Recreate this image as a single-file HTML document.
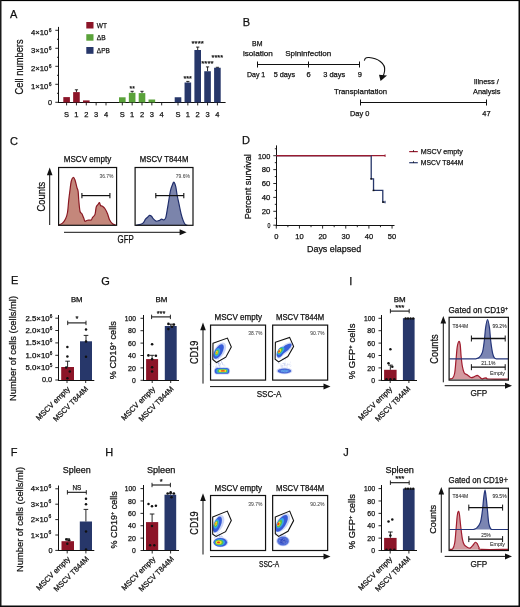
<!DOCTYPE html>
<html><head><meta charset="utf-8"><style>
html,body{margin:0;padding:0;background:#fff;}
svg{display:block;font-family:"Liberation Sans",sans-serif;will-change:transform;}
</style></head><body>
<svg width="520" height="607" viewBox="0 0 520 607">
<rect x="0" y="0" width="520" height="607" fill="#fff"/>
<defs><filter id="bl0_45" x="-50%" y="-50%" width="200%" height="200%"><feGaussianBlur stdDeviation="0.45"/></filter><filter id="bl0_6" x="-50%" y="-50%" width="200%" height="200%"><feGaussianBlur stdDeviation="0.6"/></filter></defs>
<text x="10" y="18.2" font-size="11" text-anchor="start" fill="#111" stroke="#111" stroke-width="0.25">A</text>
<rect x="86.3" y="22" width="7.2" height="6.5" fill="#8c1528"/>
<rect x="86.3" y="34.2" width="7.2" height="6.5" fill="#5aa23a"/>
<rect x="86.3" y="47" width="7.2" height="6.8" fill="#27376a"/>
<text x="96.8" y="27.6" font-size="7.8" text-anchor="start" fill="#111" stroke="#111" stroke-width="0.25" textLength="10.2" lengthAdjust="spacingAndGlyphs">WT</text>
<text x="96.8" y="39.7" font-size="7.8" text-anchor="start" fill="#111" stroke="#111" stroke-width="0.25" textLength="8.9" lengthAdjust="spacingAndGlyphs">ΔB</text>
<text x="96.8" y="52.7" font-size="7.8" text-anchor="start" fill="#111" stroke="#111" stroke-width="0.25" textLength="13" lengthAdjust="spacingAndGlyphs">ΔPB</text>
<line x1="58.5" y1="26.9" x2="58.5" y2="103" stroke="#111" stroke-width="1"/>
<line x1="55.3" y1="102.3" x2="58.6" y2="102.3" stroke="#111" stroke-width="0.9"/>
<line x1="57.0" y1="93.3" x2="58.6" y2="93.3" stroke="#111" stroke-width="0.9"/>
<text x="52" y="105.0" font-size="7.3" text-anchor="end" fill="#111" stroke="#111" stroke-width="0.25">0</text>
<line x1="55.3" y1="84.3" x2="58.6" y2="84.3" stroke="#111" stroke-width="0.9"/>
<line x1="57.0" y1="75.3" x2="58.6" y2="75.3" stroke="#111" stroke-width="0.9"/>
<text x="48.3" y="88.7" font-size="7.3" text-anchor="end" fill="#111" stroke="#111" stroke-width="0.25" textLength="17.4" lengthAdjust="spacingAndGlyphs">1×10</text>
<text x="48.7" y="85.6" font-size="5.0" text-anchor="start" fill="#111" stroke="#111" stroke-width="0.25">6</text>
<line x1="55.3" y1="66.3" x2="58.6" y2="66.3" stroke="#111" stroke-width="0.9"/>
<line x1="57.0" y1="57.3" x2="58.6" y2="57.3" stroke="#111" stroke-width="0.9"/>
<text x="48.3" y="70.7" font-size="7.3" text-anchor="end" fill="#111" stroke="#111" stroke-width="0.25" textLength="17.4" lengthAdjust="spacingAndGlyphs">2×10</text>
<text x="48.7" y="67.6" font-size="5.0" text-anchor="start" fill="#111" stroke="#111" stroke-width="0.25">6</text>
<line x1="55.3" y1="48.3" x2="58.6" y2="48.3" stroke="#111" stroke-width="0.9"/>
<line x1="57.0" y1="39.3" x2="58.6" y2="39.3" stroke="#111" stroke-width="0.9"/>
<text x="48.3" y="52.699999999999996" font-size="7.3" text-anchor="end" fill="#111" stroke="#111" stroke-width="0.25" textLength="17.4" lengthAdjust="spacingAndGlyphs">3×10</text>
<text x="48.7" y="49.599999999999994" font-size="5.0" text-anchor="start" fill="#111" stroke="#111" stroke-width="0.25">6</text>
<line x1="55.3" y1="30.299999999999997" x2="58.6" y2="30.299999999999997" stroke="#111" stroke-width="0.9"/>
<text x="48.3" y="34.699999999999996" font-size="7.3" text-anchor="end" fill="#111" stroke="#111" stroke-width="0.25" textLength="17.4" lengthAdjust="spacingAndGlyphs">4×10</text>
<text x="48.7" y="31.599999999999998" font-size="5.0" text-anchor="start" fill="#111" stroke="#111" stroke-width="0.25">6</text>
<text x="23.3" y="66.9" font-size="10" text-anchor="middle" fill="#111" stroke="#111" stroke-width="0.25" textLength="55.1" lengthAdjust="spacingAndGlyphs" transform="rotate(-90 23.3 66.9)">Cell numbers</text>
<line x1="58.1" y1="102.5" x2="225.6" y2="102.5" stroke="#111" stroke-width="1"/>
<rect x="63.3" y="97.1" width="6.6" height="5.400000000000006" fill="#8c1528"/>
<line x1="66.6" y1="102.5" x2="66.6" y2="105.4" stroke="#111" stroke-width="0.9"/>
<text x="66.6" y="116.6" font-size="7.5" text-anchor="middle" fill="#111" stroke="#111" stroke-width="0.25">S</text>
<line x1="76.44999999999999" y1="89.8" x2="76.44999999999999" y2="92.1" stroke="#111" stroke-width="0.9"/>
<line x1="74.85" y1="89.8" x2="78.04999999999998" y2="89.8" stroke="#111" stroke-width="0.9"/>
<rect x="73.14999999999999" y="92.1" width="6.6" height="10.400000000000006" fill="#8c1528"/>
<line x1="76.44999999999999" y1="102.5" x2="76.44999999999999" y2="105.4" stroke="#111" stroke-width="0.9"/>
<text x="76.44999999999999" y="116.6" font-size="7.5" text-anchor="middle" fill="#111" stroke="#111" stroke-width="0.25">1</text>
<rect x="83.0" y="100.4" width="6.6" height="2.0999999999999943" fill="#8c1528"/>
<line x1="86.3" y1="102.5" x2="86.3" y2="105.4" stroke="#111" stroke-width="0.9"/>
<text x="86.3" y="116.6" font-size="7.5" text-anchor="middle" fill="#111" stroke="#111" stroke-width="0.25">2</text>
<line x1="96.14999999999999" y1="102.5" x2="96.14999999999999" y2="105.4" stroke="#111" stroke-width="0.9"/>
<text x="96.14999999999999" y="116.6" font-size="7.5" text-anchor="middle" fill="#111" stroke="#111" stroke-width="0.25">3</text>
<line x1="106.0" y1="102.5" x2="106.0" y2="105.4" stroke="#111" stroke-width="0.9"/>
<text x="106.0" y="116.6" font-size="7.5" text-anchor="middle" fill="#111" stroke="#111" stroke-width="0.25">4</text>
<rect x="119.0" y="97.3" width="6.6" height="5.200000000000003" fill="#5aa23a"/>
<line x1="122.3" y1="102.5" x2="122.3" y2="105.4" stroke="#111" stroke-width="0.9"/>
<text x="122.3" y="116.6" font-size="7.5" text-anchor="middle" fill="#111" stroke="#111" stroke-width="0.25">S</text>
<line x1="132.15" y1="91.3" x2="132.15" y2="92.8" stroke="#111" stroke-width="0.9"/>
<line x1="130.55" y1="91.3" x2="133.75" y2="91.3" stroke="#111" stroke-width="0.9"/>
<rect x="128.85" y="92.8" width="6.6" height="9.700000000000003" fill="#5aa23a"/>
<line x1="132.15" y1="102.5" x2="132.15" y2="105.4" stroke="#111" stroke-width="0.9"/>
<text x="132.15" y="116.6" font-size="7.5" text-anchor="middle" fill="#111" stroke="#111" stroke-width="0.25">1</text>
<line x1="142.0" y1="91.3" x2="142.0" y2="93.1" stroke="#111" stroke-width="0.9"/>
<line x1="140.4" y1="91.3" x2="143.6" y2="91.3" stroke="#111" stroke-width="0.9"/>
<rect x="138.7" y="93.1" width="6.6" height="9.400000000000006" fill="#5aa23a"/>
<line x1="142.0" y1="102.5" x2="142.0" y2="105.4" stroke="#111" stroke-width="0.9"/>
<text x="142.0" y="116.6" font-size="7.5" text-anchor="middle" fill="#111" stroke="#111" stroke-width="0.25">2</text>
<rect x="148.54999999999998" y="99.5" width="6.6" height="3.0" fill="#5aa23a"/>
<line x1="151.85" y1="102.5" x2="151.85" y2="105.4" stroke="#111" stroke-width="0.9"/>
<text x="151.85" y="116.6" font-size="7.5" text-anchor="middle" fill="#111" stroke="#111" stroke-width="0.25">3</text>
<line x1="161.7" y1="102.5" x2="161.7" y2="105.4" stroke="#111" stroke-width="0.9"/>
<text x="161.7" y="116.6" font-size="7.5" text-anchor="middle" fill="#111" stroke="#111" stroke-width="0.25">4</text>
<rect x="174.7" y="97.25" width="6.6" height="5.25" fill="#27376a"/>
<line x1="178.0" y1="102.5" x2="178.0" y2="105.4" stroke="#111" stroke-width="0.9"/>
<text x="178.0" y="116.6" font-size="7.5" text-anchor="middle" fill="#111" stroke="#111" stroke-width="0.25">S</text>
<line x1="187.85" y1="81.4" x2="187.85" y2="82.5" stroke="#111" stroke-width="0.9"/>
<line x1="186.25" y1="81.4" x2="189.45" y2="81.4" stroke="#111" stroke-width="0.9"/>
<rect x="184.54999999999998" y="82.5" width="6.6" height="20.0" fill="#27376a"/>
<line x1="187.85" y1="102.5" x2="187.85" y2="105.4" stroke="#111" stroke-width="0.9"/>
<text x="187.85" y="116.6" font-size="7.5" text-anchor="middle" fill="#111" stroke="#111" stroke-width="0.25">1</text>
<line x1="197.7" y1="47.1" x2="197.7" y2="50" stroke="#111" stroke-width="0.9"/>
<line x1="196.1" y1="47.1" x2="199.29999999999998" y2="47.1" stroke="#111" stroke-width="0.9"/>
<rect x="194.39999999999998" y="50" width="6.6" height="52.5" fill="#27376a"/>
<line x1="197.7" y1="102.5" x2="197.7" y2="105.4" stroke="#111" stroke-width="0.9"/>
<text x="197.7" y="116.6" font-size="7.5" text-anchor="middle" fill="#111" stroke="#111" stroke-width="0.25">2</text>
<line x1="207.55" y1="66.9" x2="207.55" y2="71.25" stroke="#111" stroke-width="0.9"/>
<line x1="205.95000000000002" y1="66.9" x2="209.15" y2="66.9" stroke="#111" stroke-width="0.9"/>
<rect x="204.25" y="71.25" width="6.6" height="31.25" fill="#27376a"/>
<line x1="207.55" y1="102.5" x2="207.55" y2="105.4" stroke="#111" stroke-width="0.9"/>
<text x="207.55" y="116.6" font-size="7.5" text-anchor="middle" fill="#111" stroke="#111" stroke-width="0.25">3</text>
<line x1="217.4" y1="67.3" x2="217.4" y2="67.75" stroke="#111" stroke-width="0.9"/>
<line x1="215.8" y1="67.3" x2="219.0" y2="67.3" stroke="#111" stroke-width="0.9"/>
<rect x="214.1" y="67.75" width="6.6" height="34.75" fill="#27376a"/>
<line x1="217.4" y1="102.5" x2="217.4" y2="105.4" stroke="#111" stroke-width="0.9"/>
<text x="217.4" y="116.6" font-size="7.5" text-anchor="middle" fill="#111" stroke="#111" stroke-width="0.25">4</text>
<text x="132.2" y="91.0" font-size="8" text-anchor="middle" fill="#111" stroke="#111" stroke-width="0.25" textLength="5.200000000000017" lengthAdjust="spacingAndGlyphs">**</text>
<text x="187.7" y="81.2" font-size="8" text-anchor="middle" fill="#111" stroke="#111" stroke-width="0.25" textLength="8.400000000000006" lengthAdjust="spacingAndGlyphs">***</text>
<text x="197.625" y="46.45" font-size="8" text-anchor="middle" fill="#111" stroke="#111" stroke-width="0.25" textLength="12.25" lengthAdjust="spacingAndGlyphs">****</text>
<text x="207.375" y="66.2" font-size="8" text-anchor="middle" fill="#111" stroke="#111" stroke-width="0.25" textLength="12.25" lengthAdjust="spacingAndGlyphs">****</text>
<text x="217.25" y="60.2" font-size="8" text-anchor="middle" fill="#111" stroke="#111" stroke-width="0.25" textLength="11.5" lengthAdjust="spacingAndGlyphs">****</text>
<text x="242.7" y="25.6" font-size="11" text-anchor="start" fill="#111" stroke="#111" stroke-width="0.25">B</text>
<text x="257.3" y="46" font-size="7.5" text-anchor="middle" fill="#111" stroke="#111" stroke-width="0.25" textLength="10.4" lengthAdjust="spacingAndGlyphs">BM</text>
<text x="257.9" y="56.3" font-size="7.8" text-anchor="middle" fill="#111" stroke="#111" stroke-width="0.25" textLength="30" lengthAdjust="spacingAndGlyphs">isolation</text>
<text x="308.2" y="56.3" font-size="7.8" text-anchor="middle" fill="#111" stroke="#111" stroke-width="0.25" textLength="46" lengthAdjust="spacingAndGlyphs">Spininfection</text>
<line x1="257.1" y1="64.5" x2="359.6" y2="64.5" stroke="#111" stroke-width="1"/>
<line x1="257.5" y1="61.5" x2="257.5" y2="67.5" stroke="#111" stroke-width="1"/>
<line x1="308.5" y1="61.5" x2="308.5" y2="67.5" stroke="#111" stroke-width="1"/>
<line x1="359.5" y1="61.5" x2="359.5" y2="67.5" stroke="#111" stroke-width="1"/>
<text x="256.1" y="77.2" font-size="7.5" text-anchor="middle" fill="#111" stroke="#111" stroke-width="0.25" textLength="18.3" lengthAdjust="spacingAndGlyphs">Day 1</text>
<text x="284.4" y="77.2" font-size="7.5" text-anchor="middle" fill="#111" stroke="#111" stroke-width="0.25" textLength="21.5" lengthAdjust="spacingAndGlyphs">5 days</text>
<text x="308.5" y="77.2" font-size="7.5" text-anchor="middle" fill="#111" stroke="#111" stroke-width="0.25">6</text>
<text x="334.2" y="77.2" font-size="7.5" text-anchor="middle" fill="#111" stroke="#111" stroke-width="0.25" textLength="22" lengthAdjust="spacingAndGlyphs">3 days</text>
<text x="359.8" y="77.4" font-size="7.5" text-anchor="middle" fill="#111" stroke="#111" stroke-width="0.25">9</text>
<path d="M 364.3 60.6 L 365.3 58.3 Q 366.5 57.3 369 57.5 C 377 58 386 63 384.6 71 Q 384.2 74 383 76" fill="none" stroke="#111" stroke-width="1.1"/>
<path d="M 380.6 81 L 379 74.8 L 387 75.6 Z" fill="#111"/>
<text x="360.6" y="93.8" font-size="7.8" text-anchor="middle" fill="#111" stroke="#111" stroke-width="0.25" textLength="53.2" lengthAdjust="spacingAndGlyphs">Transplantation</text>
<line x1="360.3" y1="102.5" x2="486.4" y2="102.5" stroke="#111" stroke-width="1"/>
<line x1="360.5" y1="99.5" x2="360.5" y2="105.5" stroke="#111" stroke-width="1"/>
<line x1="486.5" y1="99.5" x2="486.5" y2="105.5" stroke="#111" stroke-width="1"/>
<text x="359.6" y="115.6" font-size="7.5" text-anchor="middle" fill="#111" stroke="#111" stroke-width="0.25" textLength="19.4" lengthAdjust="spacingAndGlyphs">Day 0</text>
<text x="486.4" y="115.6" font-size="7.5" text-anchor="middle" fill="#111" stroke="#111" stroke-width="0.25" textLength="8.3" lengthAdjust="spacingAndGlyphs">47</text>
<text x="486.3" y="84.4" font-size="7.8" text-anchor="middle" fill="#111" stroke="#111" stroke-width="0.25" textLength="25.2" lengthAdjust="spacingAndGlyphs">Illness /</text>
<text x="486.7" y="94" font-size="7.8" text-anchor="middle" fill="#111" stroke="#111" stroke-width="0.25" textLength="27.4" lengthAdjust="spacingAndGlyphs">Analysis</text>
<text x="9.9" y="144.8" font-size="11" text-anchor="start" fill="#111" stroke="#111" stroke-width="0.25">C</text>
<line x1="49.7" y1="225" x2="49.7" y2="172" stroke="#111" stroke-width="1"/>
<path d="M 49.7 167.4 L 46.9 175.2 L 52.5 175.2 Z" fill="#111"/>
<text x="45.1" y="196.6" font-size="10.3" text-anchor="middle" fill="#111" stroke="#111" stroke-width="0.25" textLength="29.6" lengthAdjust="spacingAndGlyphs" transform="rotate(-90 45.1 196.6)">Counts</text>
<line x1="64" y1="232.3" x2="181" y2="232.3" stroke="#111" stroke-width="1"/>
<path d="M 186.6 232.3 L 179.6 229.3 L 179.6 235.3 Z" fill="#111"/>
<text x="125.6" y="242.7" font-size="10" text-anchor="middle" fill="#111" stroke="#111" stroke-width="0.25" textLength="16.2" lengthAdjust="spacingAndGlyphs">GFP</text>
<text x="87.5" y="161.9" font-size="8.2" text-anchor="middle" fill="#111" stroke="#111" stroke-width="0.25" textLength="47.5" lengthAdjust="spacingAndGlyphs">MSCV empty</text>
<text x="164.1" y="161.9" font-size="8.2" text-anchor="middle" fill="#111" stroke="#111" stroke-width="0.25" textLength="48.5" lengthAdjust="spacingAndGlyphs">MSCV T844M</text>
<path d="M 58.75 225.00 C 59.38 224.68 61.36 224.14 62.50 223.10 C 63.64 222.06 64.77 220.52 65.60 218.75 C 66.43 216.98 66.97 215.62 67.50 212.50 C 68.03 209.38 68.33 203.75 68.75 200.00 C 69.17 196.25 69.58 193.12 70.00 190.00 C 70.42 186.88 70.73 183.33 71.25 181.25 C 71.77 179.17 72.47 177.71 73.10 177.50 C 73.72 177.29 74.37 178.33 75.00 180.00 C 75.63 181.67 76.38 185.62 76.90 187.50 C 77.42 189.38 77.79 189.17 78.10 191.25 C 78.41 193.33 78.43 196.67 78.75 200.00 C 79.07 203.33 79.47 208.96 80.00 211.25 C 80.53 213.54 81.28 212.61 81.90 213.75 C 82.53 214.89 83.23 216.85 83.75 218.10 C 84.27 219.35 84.38 220.89 85.00 221.25 C 85.62 221.61 86.46 220.46 87.50 220.25 C 88.54 220.04 90.42 220.46 91.25 220.00 C 92.08 219.54 91.88 218.43 92.50 217.50 C 93.12 216.57 94.38 216.17 95.00 214.40 C 95.62 212.63 95.73 208.57 96.25 206.90 C 96.77 205.23 97.57 205.13 98.10 204.40 C 98.62 203.67 98.98 202.30 99.40 202.50 C 99.82 202.70 100.08 204.97 100.60 205.60 C 101.12 206.22 101.77 205.72 102.50 206.25 C 103.23 206.78 104.17 207.50 105.00 208.75 C 105.83 210.00 106.77 211.97 107.50 213.75 C 108.23 215.53 108.57 217.73 109.40 219.40 C 110.23 221.07 111.47 222.82 112.50 223.75 C 113.53 224.68 115.08 224.79 115.60 225.00 Z" fill="#c4877b" stroke="none" stroke-width="0"/>
<path d="M 58.75 225.00 C 59.38 224.68 61.36 224.14 62.50 223.10 C 63.64 222.06 64.77 220.52 65.60 218.75 C 66.43 216.98 66.97 215.62 67.50 212.50 C 68.03 209.38 68.33 203.75 68.75 200.00 C 69.17 196.25 69.58 193.12 70.00 190.00 C 70.42 186.88 70.73 183.33 71.25 181.25 C 71.77 179.17 72.47 177.71 73.10 177.50 C 73.72 177.29 74.37 178.33 75.00 180.00 C 75.63 181.67 76.38 185.62 76.90 187.50 C 77.42 189.38 77.79 189.17 78.10 191.25 C 78.41 193.33 78.43 196.67 78.75 200.00 C 79.07 203.33 79.47 208.96 80.00 211.25 C 80.53 213.54 81.28 212.61 81.90 213.75 C 82.53 214.89 83.23 216.85 83.75 218.10 C 84.27 219.35 84.38 220.89 85.00 221.25 C 85.62 221.61 86.46 220.46 87.50 220.25 C 88.54 220.04 90.42 220.46 91.25 220.00 C 92.08 219.54 91.88 218.43 92.50 217.50 C 93.12 216.57 94.38 216.17 95.00 214.40 C 95.62 212.63 95.73 208.57 96.25 206.90 C 96.77 205.23 97.57 205.13 98.10 204.40 C 98.62 203.67 98.98 202.30 99.40 202.50 C 99.82 202.70 100.08 204.97 100.60 205.60 C 101.12 206.22 101.77 205.72 102.50 206.25 C 103.23 206.78 104.17 207.50 105.00 208.75 C 105.83 210.00 106.77 211.97 107.50 213.75 C 108.23 215.53 108.57 217.73 109.40 219.40 C 110.23 221.07 111.47 222.82 112.50 223.75 C 113.53 224.68 115.08 224.79 115.60 225.00" fill="none" stroke="#8a1822" stroke-width="1.2"/>
<path d="M 136.00 225.30 C 136.80 225.13 139.55 224.75 140.80 224.30 C 142.05 223.85 142.72 223.45 143.50 222.60 C 144.28 221.75 144.83 220.10 145.50 219.20 C 146.17 218.30 146.83 217.83 147.50 217.20 C 148.17 216.57 148.83 215.55 149.50 215.40 C 150.17 215.25 150.82 215.67 151.50 216.30 C 152.18 216.93 152.82 218.38 153.60 219.20 C 154.38 220.02 155.32 220.97 156.20 221.20 C 157.08 221.43 158.00 220.93 158.90 220.60 C 159.80 220.27 160.82 219.32 161.60 219.20 C 162.38 219.08 162.92 220.12 163.60 219.90 C 164.28 219.68 165.02 220.03 165.70 217.90 C 166.38 215.77 166.92 211.58 167.70 207.10 C 168.48 202.62 169.62 194.70 170.40 191.00 C 171.18 187.30 171.80 186.37 172.40 184.90 C 173.00 183.43 173.43 181.87 174.00 182.20 C 174.57 182.53 175.28 184.77 175.80 186.90 C 176.32 189.03 176.55 192.08 177.10 195.00 C 177.65 197.92 178.43 201.27 179.10 204.40 C 179.77 207.53 180.42 211.10 181.10 213.80 C 181.78 216.50 182.52 218.85 183.20 220.60 C 183.88 222.35 184.53 223.52 185.20 224.30 C 185.87 225.08 186.87 225.13 187.20 225.30 Z" fill="#7b84ab" stroke="none" stroke-width="0"/>
<path d="M 136.00 225.30 C 136.80 225.13 139.55 224.75 140.80 224.30 C 142.05 223.85 142.72 223.45 143.50 222.60 C 144.28 221.75 144.83 220.10 145.50 219.20 C 146.17 218.30 146.83 217.83 147.50 217.20 C 148.17 216.57 148.83 215.55 149.50 215.40 C 150.17 215.25 150.82 215.67 151.50 216.30 C 152.18 216.93 152.82 218.38 153.60 219.20 C 154.38 220.02 155.32 220.97 156.20 221.20 C 157.08 221.43 158.00 220.93 158.90 220.60 C 159.80 220.27 160.82 219.32 161.60 219.20 C 162.38 219.08 162.92 220.12 163.60 219.90 C 164.28 219.68 165.02 220.03 165.70 217.90 C 166.38 215.77 166.92 211.58 167.70 207.10 C 168.48 202.62 169.62 194.70 170.40 191.00 C 171.18 187.30 171.80 186.37 172.40 184.90 C 173.00 183.43 173.43 181.87 174.00 182.20 C 174.57 182.53 175.28 184.77 175.80 186.90 C 176.32 189.03 176.55 192.08 177.10 195.00 C 177.65 197.92 178.43 201.27 179.10 204.40 C 179.77 207.53 180.42 211.10 181.10 213.80 C 181.78 216.50 182.52 218.85 183.20 220.60 C 183.88 222.35 184.53 223.52 185.20 224.30 C 185.87 225.08 186.87 225.13 187.20 225.30" fill="none" stroke="#1f2d6b" stroke-width="1.2"/>
<rect x="58.6" y="167.5" width="58" height="57.8" fill="none" stroke="#111" stroke-width="1.2"/>
<rect x="135.1" y="167.5" width="57.9" height="57.8" fill="none" stroke="#111" stroke-width="1.2"/>
<line x1="81.9" y1="195.6" x2="109.9" y2="195.6" stroke="#111" stroke-width="1.2"/>
<line x1="81.9" y1="193.1" x2="81.9" y2="198.2" stroke="#111" stroke-width="1.1"/>
<line x1="109.9" y1="193.1" x2="109.9" y2="198.2" stroke="#111" stroke-width="1.1"/>
<line x1="155.8" y1="195.6" x2="183.8" y2="195.6" stroke="#111" stroke-width="1.2"/>
<line x1="155.8" y1="193.1" x2="155.8" y2="198.2" stroke="#111" stroke-width="1.1"/>
<line x1="183.8" y1="193.1" x2="183.8" y2="198.2" stroke="#111" stroke-width="1.1"/>
<text x="106.5" y="177.6" font-size="5.6" text-anchor="middle" fill="#444" stroke="#444" stroke-width="0.05" textLength="14.1" lengthAdjust="spacingAndGlyphs">36.7%</text>
<text x="182.8" y="177.6" font-size="5.6" text-anchor="middle" fill="#444" stroke="#444" stroke-width="0.05" textLength="14.1" lengthAdjust="spacingAndGlyphs">79.6%</text>
<text x="242" y="144.2" font-size="11" text-anchor="start" fill="#111" stroke="#111" stroke-width="0.25">D</text>
<line x1="276.5" y1="145.4" x2="276.5" y2="226" stroke="#111" stroke-width="1"/>
<line x1="275.7" y1="225.5" x2="394.5" y2="225.5" stroke="#111" stroke-width="1"/>
<line x1="273.3" y1="225.2" x2="276.3" y2="225.2" stroke="#111" stroke-width="0.9"/>
<text x="270.3" y="228.0" font-size="7.5" text-anchor="end" fill="#111" stroke="#111" stroke-width="0.25" textLength="2.9" lengthAdjust="spacingAndGlyphs">0</text>
<line x1="274.8" y1="218.25" x2="276.3" y2="218.25" stroke="#111" stroke-width="0.9"/>
<line x1="273.3" y1="211.29999999999998" x2="276.3" y2="211.29999999999998" stroke="#111" stroke-width="0.9"/>
<text x="270.3" y="214.1" font-size="7.5" text-anchor="end" fill="#111" stroke="#111" stroke-width="0.25" textLength="8.6" lengthAdjust="spacingAndGlyphs">20</text>
<line x1="274.8" y1="204.35" x2="276.3" y2="204.35" stroke="#111" stroke-width="0.9"/>
<line x1="273.3" y1="197.39999999999998" x2="276.3" y2="197.39999999999998" stroke="#111" stroke-width="0.9"/>
<text x="270.3" y="200.2" font-size="7.5" text-anchor="end" fill="#111" stroke="#111" stroke-width="0.25" textLength="8.6" lengthAdjust="spacingAndGlyphs">40</text>
<line x1="274.8" y1="190.45" x2="276.3" y2="190.45" stroke="#111" stroke-width="0.9"/>
<line x1="273.3" y1="183.5" x2="276.3" y2="183.5" stroke="#111" stroke-width="0.9"/>
<text x="270.3" y="186.3" font-size="7.5" text-anchor="end" fill="#111" stroke="#111" stroke-width="0.25" textLength="8.6" lengthAdjust="spacingAndGlyphs">60</text>
<line x1="274.8" y1="176.54999999999998" x2="276.3" y2="176.54999999999998" stroke="#111" stroke-width="0.9"/>
<line x1="273.3" y1="169.6" x2="276.3" y2="169.6" stroke="#111" stroke-width="0.9"/>
<text x="270.3" y="172.4" font-size="7.5" text-anchor="end" fill="#111" stroke="#111" stroke-width="0.25" textLength="8.6" lengthAdjust="spacingAndGlyphs">80</text>
<line x1="274.8" y1="162.64999999999998" x2="276.3" y2="162.64999999999998" stroke="#111" stroke-width="0.9"/>
<line x1="273.3" y1="155.7" x2="276.3" y2="155.7" stroke="#111" stroke-width="0.9"/>
<text x="270.3" y="158.5" font-size="7.5" text-anchor="end" fill="#111" stroke="#111" stroke-width="0.25" textLength="12.3" lengthAdjust="spacingAndGlyphs">100</text>
<line x1="274.8" y1="148.75" x2="276.3" y2="148.75" stroke="#111" stroke-width="0.9"/>
<line x1="276.3" y1="225.5" x2="276.3" y2="228.6" stroke="#111" stroke-width="0.9"/>
<text x="276.3" y="238.8" font-size="7.5" text-anchor="middle" fill="#111" stroke="#111" stroke-width="0.25" textLength="4.2" lengthAdjust="spacingAndGlyphs">0</text>
<line x1="287.875" y1="225.5" x2="287.875" y2="227.2" stroke="#111" stroke-width="0.9"/>
<line x1="299.45" y1="225.5" x2="299.45" y2="228.6" stroke="#111" stroke-width="0.9"/>
<text x="299.45" y="238.8" font-size="7.5" text-anchor="middle" fill="#111" stroke="#111" stroke-width="0.25" textLength="8.4" lengthAdjust="spacingAndGlyphs">10</text>
<line x1="311.02500000000003" y1="225.5" x2="311.02500000000003" y2="227.2" stroke="#111" stroke-width="0.9"/>
<line x1="322.6" y1="225.5" x2="322.6" y2="228.6" stroke="#111" stroke-width="0.9"/>
<text x="322.6" y="238.8" font-size="7.5" text-anchor="middle" fill="#111" stroke="#111" stroke-width="0.25" textLength="8.4" lengthAdjust="spacingAndGlyphs">20</text>
<line x1="334.175" y1="225.5" x2="334.175" y2="227.2" stroke="#111" stroke-width="0.9"/>
<line x1="345.75" y1="225.5" x2="345.75" y2="228.6" stroke="#111" stroke-width="0.9"/>
<text x="345.75" y="238.8" font-size="7.5" text-anchor="middle" fill="#111" stroke="#111" stroke-width="0.25" textLength="8.4" lengthAdjust="spacingAndGlyphs">30</text>
<line x1="357.325" y1="225.5" x2="357.325" y2="227.2" stroke="#111" stroke-width="0.9"/>
<line x1="368.9" y1="225.5" x2="368.9" y2="228.6" stroke="#111" stroke-width="0.9"/>
<text x="368.9" y="238.8" font-size="7.5" text-anchor="middle" fill="#111" stroke="#111" stroke-width="0.25" textLength="8.4" lengthAdjust="spacingAndGlyphs">40</text>
<line x1="380.475" y1="225.5" x2="380.475" y2="227.2" stroke="#111" stroke-width="0.9"/>
<line x1="392.05" y1="225.5" x2="392.05" y2="228.6" stroke="#111" stroke-width="0.9"/>
<text x="392.05" y="238.8" font-size="7.5" text-anchor="middle" fill="#111" stroke="#111" stroke-width="0.25" textLength="8.4" lengthAdjust="spacingAndGlyphs">50</text>
<text x="334.1" y="252" font-size="9" text-anchor="middle" fill="#111" stroke="#111" stroke-width="0.25" textLength="54.3" lengthAdjust="spacingAndGlyphs">Days elapsed</text>
<text x="250.6" y="186.7" font-size="9.1" text-anchor="middle" fill="#111" stroke="#111" stroke-width="0.25" textLength="65.2" lengthAdjust="spacingAndGlyphs" transform="rotate(-90 250.6 186.7)">Percent survival</text>
<path d="M 276.3 155.7 L 385.105 155.7" fill="none" stroke="#9a1b30" stroke-width="1.3"/>
<line x1="385.105" y1="154.39999999999998" x2="385.105" y2="157.0" stroke="#9a1b30" stroke-width="0.9"/>
<path d="M 276.3 155.7 L 371.21500000000003 155.7 L 371.21500000000003 178.8435 L 373.53000000000003 178.8435 L 373.53000000000003 190.45 L 382.79 190.45 L 382.79 202.0565 L 385.105 202.0565" fill="none" stroke="#27376a" stroke-width="1.3"/>
<line x1="385.105" y1="200.7565" x2="385.105" y2="203.3565" stroke="#27376a" stroke-width="0.9"/>
<path d="M 276.3 155.7 L 371.21500000000003 155.7" fill="none" stroke="#9a1b30" stroke-width="1.3"/>
<line x1="409.2" y1="151.6" x2="417.8" y2="151.6" stroke="#9a1b30" stroke-width="1.2"/>
<line x1="413.5" y1="150.3" x2="413.5" y2="151.6" stroke="#111" stroke-width="1"/>
<text x="420.8" y="154.3" font-size="7.5" text-anchor="start" fill="#111" stroke="#111" stroke-width="0.25" textLength="42" lengthAdjust="spacingAndGlyphs">MSCV empty</text>
<line x1="409.2" y1="162.7" x2="417.8" y2="162.7" stroke="#27376a" stroke-width="1.2"/>
<line x1="413.5" y1="161.4" x2="413.5" y2="162.7" stroke="#111" stroke-width="1"/>
<text x="420.8" y="165.4" font-size="7.5" text-anchor="start" fill="#111" stroke="#111" stroke-width="0.25" textLength="42.7" lengthAdjust="spacingAndGlyphs">MSCV T844M</text>
<rect x="370.32" y="178.14" width="1.8" height="1.4" fill="#111"/>
<rect x="372.63" y="189.75" width="1.8" height="1.4" fill="#111"/>
<rect x="382.19" y="201.36" width="1.8" height="1.4" fill="#111"/>
<text x="11" y="283.7" font-size="11" text-anchor="start" fill="#111" stroke="#111" stroke-width="0.25">E</text>
<text x="76.75" y="301.7" font-size="7.3" text-anchor="middle" fill="#111" stroke="#111" stroke-width="0.25" textLength="11.7" lengthAdjust="spacingAndGlyphs">BM</text>
<line x1="58.5" y1="315" x2="58.5" y2="381" stroke="#111" stroke-width="1"/>
<line x1="55.3" y1="318.2" x2="58.3" y2="318.2" stroke="#111" stroke-width="0.9"/>
<text x="49.6" y="320.59999999999997" font-size="6.8" text-anchor="end" fill="#111" stroke="#111" stroke-width="0.25" textLength="24.1" lengthAdjust="spacingAndGlyphs">2.5×10</text>
<text x="49.8" y="317.5" font-size="4.7" text-anchor="start" fill="#111" stroke="#111" stroke-width="0.25">6</text>
<line x1="55.3" y1="330.5" x2="58.3" y2="330.5" stroke="#111" stroke-width="0.9"/>
<text x="49.6" y="332.9" font-size="6.8" text-anchor="end" fill="#111" stroke="#111" stroke-width="0.25" textLength="24.1" lengthAdjust="spacingAndGlyphs">2.0×10</text>
<text x="49.8" y="329.8" font-size="4.7" text-anchor="start" fill="#111" stroke="#111" stroke-width="0.25">6</text>
<line x1="55.3" y1="342.9" x2="58.3" y2="342.9" stroke="#111" stroke-width="0.9"/>
<text x="49.6" y="345.29999999999995" font-size="6.8" text-anchor="end" fill="#111" stroke="#111" stroke-width="0.25" textLength="24.1" lengthAdjust="spacingAndGlyphs">1.5×10</text>
<text x="49.8" y="342.2" font-size="4.7" text-anchor="start" fill="#111" stroke="#111" stroke-width="0.25">6</text>
<line x1="55.3" y1="355.3" x2="58.3" y2="355.3" stroke="#111" stroke-width="0.9"/>
<text x="49.6" y="357.7" font-size="6.8" text-anchor="end" fill="#111" stroke="#111" stroke-width="0.25" textLength="24.1" lengthAdjust="spacingAndGlyphs">1.0×10</text>
<text x="49.8" y="354.6" font-size="4.7" text-anchor="start" fill="#111" stroke="#111" stroke-width="0.25">6</text>
<line x1="55.3" y1="367.6" x2="58.3" y2="367.6" stroke="#111" stroke-width="0.9"/>
<text x="49.6" y="370.0" font-size="6.8" text-anchor="end" fill="#111" stroke="#111" stroke-width="0.25" textLength="24.1" lengthAdjust="spacingAndGlyphs">5.0×10</text>
<text x="49.8" y="366.90000000000003" font-size="4.7" text-anchor="start" fill="#111" stroke="#111" stroke-width="0.25">5</text>
<line x1="55.3" y1="380" x2="58.3" y2="380" stroke="#111" stroke-width="0.9"/>
<text x="52.2" y="382.4" font-size="6.8" text-anchor="end" fill="#111" stroke="#111" stroke-width="0.25" textLength="10.2" lengthAdjust="spacingAndGlyphs">0.0</text>
<text x="16.2" y="348.5" font-size="9.3" text-anchor="middle" fill="#111" stroke="#111" stroke-width="0.25" textLength="105" lengthAdjust="spacingAndGlyphs" transform="rotate(-90 16.2 348.5)">Number of cells (cells/ml)</text>
<rect x="61.2" y="367" width="12.8" height="13" fill="#8c1528"/>
<line x1="67.6" y1="361.2" x2="67.6" y2="367" stroke="#111" stroke-width="0.9"/>
<line x1="65.3" y1="361.2" x2="69.89999999999999" y2="361.2" stroke="#111" stroke-width="0.9"/>
<rect x="80" y="341.3" width="12" height="38.7" fill="#27376a"/>
<line x1="86" y1="335.4" x2="86" y2="341.3" stroke="#111" stroke-width="0.9"/>
<line x1="83.7" y1="335.4" x2="88.3" y2="335.4" stroke="#111" stroke-width="0.9"/>
<circle cx="67.4" cy="347.1" r="1.25" fill="#111"/>
<circle cx="67.4" cy="356.5" r="1.25" fill="#111"/>
<circle cx="66.2" cy="367.6" r="1.25" fill="#111"/>
<circle cx="69.8" cy="371.4" r="1.25" fill="#111"/>
<circle cx="67.4" cy="378.2" r="1.25" fill="#111"/>
<circle cx="86" cy="329.4" r="1.25" fill="#111"/>
<circle cx="86" cy="341.6" r="1.25" fill="#111"/>
<circle cx="86" cy="356.8" r="1.25" fill="#111"/>
<line x1="58" y1="380.5" x2="94.3" y2="380.5" stroke="#111" stroke-width="1"/>
<line x1="67" y1="380.2" x2="67" y2="383" stroke="#111" stroke-width="0.9"/>
<line x1="85.7" y1="380.2" x2="85.7" y2="383" stroke="#111" stroke-width="0.9"/>
<line x1="67.7" y1="322.9" x2="86" y2="322.9" stroke="#111" stroke-width="1.1"/>
<line x1="67.7" y1="320.7" x2="67.7" y2="325.09999999999997" stroke="#111" stroke-width="0.9"/>
<line x1="86" y1="320.7" x2="86" y2="325.09999999999997" stroke="#111" stroke-width="0.9"/>
<text x="76.85" y="321.4" font-size="7.5" text-anchor="middle" fill="#111" stroke="#111" stroke-width="0.25">*</text>
<text x="70.5" y="389.5" font-size="7.6" text-anchor="end" fill="#111" stroke="#111" stroke-width="0.25" textLength="44.5" lengthAdjust="spacingAndGlyphs" transform="rotate(-45 70.5 389.5)">MSCV empty</text>
<text x="88.7" y="389.5" font-size="7.6" text-anchor="end" fill="#111" stroke="#111" stroke-width="0.25" textLength="46" lengthAdjust="spacingAndGlyphs" transform="rotate(-45 88.7 389.5)">MSCV T844M</text>
<text x="101.3" y="284.5" font-size="11" text-anchor="start" fill="#111" stroke="#111" stroke-width="0.25">G</text>
<text x="161.35" y="301.7" font-size="7.3" text-anchor="middle" fill="#111" stroke="#111" stroke-width="0.25" textLength="11.9" lengthAdjust="spacingAndGlyphs">BM</text>
<line x1="143.5" y1="315" x2="143.5" y2="380.8" stroke="#111" stroke-width="1"/>
<line x1="140.5" y1="380.3" x2="143.5" y2="380.3" stroke="#111" stroke-width="0.9"/>
<text x="135.9" y="383.0" font-size="7.4" text-anchor="end" fill="#111" stroke="#111" stroke-width="0.25" textLength="3.8" lengthAdjust="spacingAndGlyphs">0</text>
<line x1="140.5" y1="367.90000000000003" x2="143.5" y2="367.90000000000003" stroke="#111" stroke-width="0.9"/>
<text x="135.9" y="370.6" font-size="7.4" text-anchor="end" fill="#111" stroke="#111" stroke-width="0.25" textLength="7.8" lengthAdjust="spacingAndGlyphs">20</text>
<line x1="140.5" y1="355.5" x2="143.5" y2="355.5" stroke="#111" stroke-width="0.9"/>
<text x="135.9" y="358.2" font-size="7.4" text-anchor="end" fill="#111" stroke="#111" stroke-width="0.25" textLength="7.8" lengthAdjust="spacingAndGlyphs">40</text>
<line x1="140.5" y1="343.1" x2="143.5" y2="343.1" stroke="#111" stroke-width="0.9"/>
<text x="135.9" y="345.8" font-size="7.4" text-anchor="end" fill="#111" stroke="#111" stroke-width="0.25" textLength="7.8" lengthAdjust="spacingAndGlyphs">60</text>
<line x1="140.5" y1="330.7" x2="143.5" y2="330.7" stroke="#111" stroke-width="0.9"/>
<text x="135.9" y="333.4" font-size="7.4" text-anchor="end" fill="#111" stroke="#111" stroke-width="0.25" textLength="7.8" lengthAdjust="spacingAndGlyphs">80</text>
<line x1="140.5" y1="318.3" x2="143.5" y2="318.3" stroke="#111" stroke-width="0.9"/>
<text x="135.9" y="321.0" font-size="7.4" text-anchor="end" fill="#111" stroke="#111" stroke-width="0.25" textLength="11.1" lengthAdjust="spacingAndGlyphs">100</text>
<text x="116.4" y="350.2" font-size="9" text-anchor="middle" fill="#111" stroke="#111" stroke-width="0.25" textLength="58" lengthAdjust="spacingAndGlyphs" transform="rotate(-90 116.4 350.2)">% CD19<tspan font-size="5.58" dy="-3.42">+</tspan><tspan dy="3.42"> cells</tspan></text>
<rect x="146.1" y="359.1" width="12" height="21.2" fill="#8c1528"/>
<line x1="152.1" y1="355.3" x2="152.1" y2="359.1" stroke="#111" stroke-width="0.9"/>
<line x1="149.79999999999998" y1="355.3" x2="154.4" y2="355.3" stroke="#111" stroke-width="0.9"/>
<rect x="164.8" y="326" width="11.9" height="54" fill="#27376a"/>
<line x1="170.75" y1="324.2" x2="170.75" y2="326" stroke="#111" stroke-width="0.9"/>
<line x1="168.45" y1="324.2" x2="173.05" y2="324.2" stroke="#111" stroke-width="0.9"/>
<circle cx="152.1" cy="344.2" r="1.3" fill="#111"/>
<circle cx="148.4" cy="355.4" r="1.3" fill="#111"/>
<circle cx="155.9" cy="355.8" r="1.3" fill="#111"/>
<circle cx="152.1" cy="359.3" r="1.3" fill="#111"/>
<circle cx="152.1" cy="367.3" r="1.3" fill="#111"/>
<circle cx="152.1" cy="371.5" r="1.3" fill="#111"/>
<circle cx="168.4" cy="323.9" r="1.3" fill="#111"/>
<circle cx="172" cy="326.7" r="1.3" fill="#111"/>
<circle cx="173.9" cy="324.6" r="1.3" fill="#111"/>
<circle cx="168.4" cy="329.1" r="1.3" fill="#111"/>
<line x1="143" y1="380.5" x2="179" y2="380.5" stroke="#111" stroke-width="1"/>
<line x1="152.2" y1="380.2" x2="152.2" y2="383" stroke="#111" stroke-width="0.9"/>
<line x1="170.7" y1="380.2" x2="170.7" y2="383" stroke="#111" stroke-width="0.9"/>
<line x1="151.6" y1="316.9" x2="170.4" y2="316.9" stroke="#111" stroke-width="1.1"/>
<line x1="151.6" y1="314.7" x2="151.6" y2="319.09999999999997" stroke="#111" stroke-width="0.9"/>
<line x1="170.4" y1="314.7" x2="170.4" y2="319.09999999999997" stroke="#111" stroke-width="0.9"/>
<text x="161.0" y="315.6" font-size="7.5" text-anchor="middle" fill="#111" stroke="#111" stroke-width="0.25" textLength="8.6" lengthAdjust="spacingAndGlyphs">***</text>
<text x="155.7" y="389.5" font-size="7.6" text-anchor="end" fill="#111" stroke="#111" stroke-width="0.25" textLength="44.5" lengthAdjust="spacingAndGlyphs" transform="rotate(-45 155.7 389.5)">MSCV empty</text>
<text x="174.2" y="389.5" font-size="7.6" text-anchor="end" fill="#111" stroke="#111" stroke-width="0.25" textLength="46" lengthAdjust="spacingAndGlyphs" transform="rotate(-45 174.2 389.5)">MSCV T844M</text>
<text x="238.25" y="319.6" font-size="8.2" text-anchor="middle" fill="#111" stroke="#111" stroke-width="0.25" textLength="47.5" lengthAdjust="spacingAndGlyphs">MSCV empty</text>
<text x="300.15" y="319.6" font-size="8.2" text-anchor="middle" fill="#111" stroke="#111" stroke-width="0.25" textLength="48.3" lengthAdjust="spacingAndGlyphs">MSCV T844M</text>
<line x1="203" y1="383.6" x2="203" y2="327.7" stroke="#111" stroke-width="1"/>
<path d="M 203 322.4 L 200.2 330.2 L 205.8 330.2 Z" fill="#111"/>
<line x1="210" y1="386.6" x2="325" y2="386.6" stroke="#111" stroke-width="1"/>
<path d="M 330.5 386.6 L 323.5 383.6 L 323.5 389.6 Z" fill="#111"/>
<text x="269" y="397.1" font-size="9.3" text-anchor="middle" fill="#111" stroke="#111" stroke-width="0.25" textLength="24.6" lengthAdjust="spacingAndGlyphs">SSC-A</text>
<text x="198.1" y="352.4" font-size="10.5" text-anchor="middle" fill="#111" stroke="#111" stroke-width="0.25" textLength="23.4" lengthAdjust="spacingAndGlyphs" transform="rotate(-90 198.1 352.4)">CD19</text>
<text x="255.4" y="335.0" font-size="5.6" text-anchor="middle" fill="#444" stroke="#444" stroke-width="0.05" textLength="14.1" lengthAdjust="spacingAndGlyphs">38.7%</text>
<text x="317.4" y="335.0" font-size="5.6" text-anchor="middle" fill="#444" stroke="#444" stroke-width="0.05" textLength="14.4" lengthAdjust="spacingAndGlyphs">90.7%</text>
<circle cx="219.77" cy="368.00" r="0.4" fill="#6f86de" fill-opacity="0.45"/><circle cx="216.89" cy="367.28" r="0.4" fill="#6f86de" fill-opacity="0.45"/><circle cx="218.77" cy="363.77" r="0.4" fill="#6f86de" fill-opacity="0.45"/><circle cx="224.82" cy="364.94" r="0.4" fill="#6f86de" fill-opacity="0.45"/><circle cx="219.38" cy="366.54" r="0.4" fill="#6f86de" fill-opacity="0.45"/><circle cx="222.66" cy="364.41" r="0.4" fill="#6f86de" fill-opacity="0.45"/><circle cx="221.15" cy="361.77" r="0.4" fill="#6f86de" fill-opacity="0.45"/><circle cx="218.47" cy="363.27" r="0.4" fill="#6f86de" fill-opacity="0.45"/><circle cx="215.77" cy="360.28" r="0.4" fill="#6f86de" fill-opacity="0.45"/><circle cx="214.94" cy="363.83" r="0.4" fill="#6f86de" fill-opacity="0.45"/><circle cx="219.02" cy="363.60" r="0.4" fill="#6f86de" fill-opacity="0.45"/><circle cx="219.69" cy="360.76" r="0.4" fill="#6f86de" fill-opacity="0.45"/><circle cx="219.28" cy="365.17" r="0.4" fill="#6f86de" fill-opacity="0.45"/><circle cx="221.60" cy="362.13" r="0.4" fill="#6f86de" fill-opacity="0.45"/><circle cx="218.38" cy="358.86" r="0.4" fill="#6f86de" fill-opacity="0.45"/><circle cx="218.09" cy="358.35" r="0.4" fill="#6f86de" fill-opacity="0.45"/><circle cx="215.53" cy="367.58" r="0.4" fill="#6f86de" fill-opacity="0.45"/><circle cx="213.34" cy="366.74" r="0.4" fill="#6f86de" fill-opacity="0.45"/><circle cx="220.42" cy="363.63" r="0.4" fill="#6f86de" fill-opacity="0.45"/><circle cx="220.79" cy="365.98" r="0.4" fill="#6f86de" fill-opacity="0.45"/><circle cx="222.43" cy="363.85" r="0.4" fill="#6f86de" fill-opacity="0.45"/><circle cx="217.84" cy="362.81" r="0.4" fill="#6f86de" fill-opacity="0.45"/><circle cx="216.74" cy="364.37" r="0.4" fill="#6f86de" fill-opacity="0.45"/><circle cx="217.30" cy="367.49" r="0.4" fill="#6f86de" fill-opacity="0.45"/><circle cx="214.27" cy="361.44" r="0.4" fill="#6f86de" fill-opacity="0.45"/><circle cx="216.83" cy="358.64" r="0.4" fill="#6f86de" fill-opacity="0.45"/><circle cx="224.83" cy="357.76" r="0.4" fill="#6f86de" fill-opacity="0.45"/><circle cx="218.71" cy="363.03" r="0.4" fill="#6f86de" fill-opacity="0.45"/><circle cx="224.14" cy="358.94" r="0.4" fill="#6f86de" fill-opacity="0.45"/><circle cx="222.50" cy="362.45" r="0.4" fill="#6f86de" fill-opacity="0.45"/><circle cx="219.07" cy="362.62" r="0.4" fill="#6f86de" fill-opacity="0.45"/><circle cx="221.29" cy="361.31" r="0.4" fill="#6f86de" fill-opacity="0.45"/><circle cx="219.28" cy="365.49" r="0.4" fill="#6f86de" fill-opacity="0.45"/><circle cx="224.65" cy="357.77" r="0.4" fill="#6f86de" fill-opacity="0.45"/><circle cx="223.77" cy="367.15" r="0.4" fill="#6f86de" fill-opacity="0.45"/><circle cx="218.15" cy="365.35" r="0.4" fill="#6f86de" fill-opacity="0.45"/><circle cx="218.20" cy="369.11" r="0.4" fill="#6f86de" fill-opacity="0.45"/><circle cx="220.09" cy="363.90" r="0.4" fill="#6f86de" fill-opacity="0.45"/><circle cx="218.86" cy="363.94" r="0.4" fill="#6f86de" fill-opacity="0.45"/><circle cx="219.01" cy="362.04" r="0.4" fill="#6f86de" fill-opacity="0.45"/><circle cx="225.26" cy="359.15" r="0.4" fill="#6f86de" fill-opacity="0.45"/><circle cx="209.40" cy="364.16" r="0.4" fill="#6f86de" fill-opacity="0.45"/><circle cx="219.09" cy="365.54" r="0.4" fill="#6f86de" fill-opacity="0.45"/><circle cx="218.93" cy="364.09" r="0.4" fill="#6f86de" fill-opacity="0.45"/><circle cx="220.43" cy="367.21" r="0.4" fill="#6f86de" fill-opacity="0.45"/><circle cx="218.25" cy="363.46" r="0.4" fill="#6f86de" fill-opacity="0.45"/><circle cx="224.93" cy="365.98" r="0.4" fill="#6f86de" fill-opacity="0.45"/><circle cx="216.74" cy="371.01" r="0.4" fill="#6f86de" fill-opacity="0.45"/><circle cx="221.67" cy="362.85" r="0.4" fill="#6f86de" fill-opacity="0.45"/><circle cx="216.21" cy="365.34" r="0.4" fill="#6f86de" fill-opacity="0.45"/><circle cx="217.17" cy="361.54" r="0.4" fill="#6f86de" fill-opacity="0.45"/><circle cx="215.87" cy="363.08" r="0.4" fill="#6f86de" fill-opacity="0.45"/><circle cx="222.60" cy="363.29" r="0.4" fill="#6f86de" fill-opacity="0.45"/><circle cx="215.44" cy="366.37" r="0.4" fill="#6f86de" fill-opacity="0.45"/><circle cx="219.68" cy="366.86" r="0.4" fill="#6f86de" fill-opacity="0.45"/><circle cx="222.86" cy="364.03" r="0.4" fill="#6f86de" fill-opacity="0.45"/><circle cx="219.09" cy="364.37" r="0.4" fill="#6f86de" fill-opacity="0.45"/><circle cx="216.32" cy="366.37" r="0.4" fill="#6f86de" fill-opacity="0.45"/><circle cx="223.34" cy="364.99" r="0.4" fill="#6f86de" fill-opacity="0.45"/><circle cx="218.84" cy="363.77" r="0.4" fill="#6f86de" fill-opacity="0.45"/><circle cx="217.31" cy="362.25" r="0.4" fill="#6f86de" fill-opacity="0.45"/><circle cx="218.38" cy="362.14" r="0.4" fill="#6f86de" fill-opacity="0.45"/><circle cx="218.28" cy="360.08" r="0.4" fill="#6f86de" fill-opacity="0.45"/><circle cx="220.48" cy="364.64" r="0.4" fill="#6f86de" fill-opacity="0.45"/><circle cx="216.27" cy="358.06" r="0.4" fill="#6f86de" fill-opacity="0.45"/><circle cx="219.48" cy="367.59" r="0.4" fill="#6f86de" fill-opacity="0.45"/><circle cx="217.45" cy="363.15" r="0.4" fill="#6f86de" fill-opacity="0.45"/><circle cx="217.91" cy="366.33" r="0.4" fill="#6f86de" fill-opacity="0.45"/><circle cx="216.94" cy="367.26" r="0.4" fill="#6f86de" fill-opacity="0.45"/><circle cx="218.65" cy="367.09" r="0.4" fill="#6f86de" fill-opacity="0.45"/>
<g filter="url(#bl0_45)"><ellipse cx="0" cy="0" rx="5.20" ry="9.50" fill="#98abed" fill-opacity="0.5" transform="translate(219.5 351) rotate(32)"/><ellipse cx="0" cy="0" rx="3.80" ry="8.20" fill="#2f56d6" fill-opacity="0.95" transform="translate(218.6 351.5) rotate(30)"/><ellipse cx="0" cy="0" rx="2.30" ry="4.40" fill="#35a6e6" fill-opacity="1" transform="translate(217.4 352.3) rotate(22)"/><ellipse cx="0" cy="0" rx="1.60" ry="2.90" fill="#5ac046" fill-opacity="1" transform="translate(217 352.5) rotate(20)"/><ellipse cx="0" cy="0" rx="1.05" ry="1.80" fill="#f2e22a" fill-opacity="1" transform="translate(216.7 352.6) rotate(20)"/><ellipse cx="0" cy="0" rx="0.60" ry="1.00" fill="#f08a20" fill-opacity="1" transform="translate(216.6 352.7) rotate(20)"/></g>
<g filter="url(#bl0_45)"><rect x="213.90" y="367.30" width="16.20" height="7.20" rx="3.60" fill="#98abed" fill-opacity="0.5"/><rect x="214.70" y="368.00" width="14.60" height="5.80" rx="2.90" fill="#2f56d6" fill-opacity="0.95"/><rect x="216.20" y="368.70" width="12.00" height="4.40" rx="2.20" fill="#35a6e6" fill-opacity="1"/><rect x="217.50" y="369.25" width="9.80" height="3.30" rx="1.65" fill="#5ac046" fill-opacity="1"/><rect x="218.90" y="369.75" width="7.40" height="2.30" rx="1.15" fill="#f2e22a" fill-opacity="1"/><rect x="221.00" y="370.25" width="3.80" height="1.30" rx="0.65" fill="#e63a1e" fill-opacity="1"/></g>
<path d="M 213 343.3 L 227.4 338.1 L 231.3 346.9 L 225.8 357.2 L 216.5 362.6 L 212.8 359.4 Z" fill="none" stroke="#111" stroke-width="1.1"/>
<circle cx="279.73" cy="361.74" r="0.4" fill="#7f93e0" fill-opacity="0.45"/><circle cx="285.64" cy="358.99" r="0.4" fill="#7f93e0" fill-opacity="0.45"/><circle cx="283.04" cy="359.09" r="0.4" fill="#7f93e0" fill-opacity="0.45"/><circle cx="287.02" cy="364.99" r="0.4" fill="#7f93e0" fill-opacity="0.45"/><circle cx="287.84" cy="363.29" r="0.4" fill="#7f93e0" fill-opacity="0.45"/><circle cx="284.77" cy="363.81" r="0.4" fill="#7f93e0" fill-opacity="0.45"/><circle cx="281.14" cy="364.85" r="0.4" fill="#7f93e0" fill-opacity="0.45"/><circle cx="279.48" cy="363.65" r="0.4" fill="#7f93e0" fill-opacity="0.45"/><circle cx="285.73" cy="364.64" r="0.4" fill="#7f93e0" fill-opacity="0.45"/><circle cx="282.19" cy="369.75" r="0.4" fill="#7f93e0" fill-opacity="0.45"/><circle cx="283.69" cy="363.09" r="0.4" fill="#7f93e0" fill-opacity="0.45"/><circle cx="284.01" cy="363.25" r="0.4" fill="#7f93e0" fill-opacity="0.45"/><circle cx="282.27" cy="363.66" r="0.4" fill="#7f93e0" fill-opacity="0.45"/><circle cx="289.98" cy="364.55" r="0.4" fill="#7f93e0" fill-opacity="0.45"/><circle cx="284.06" cy="366.12" r="0.4" fill="#7f93e0" fill-opacity="0.45"/><circle cx="289.95" cy="363.96" r="0.4" fill="#7f93e0" fill-opacity="0.45"/><circle cx="281.50" cy="370.44" r="0.4" fill="#7f93e0" fill-opacity="0.45"/><circle cx="278.83" cy="363.62" r="0.4" fill="#7f93e0" fill-opacity="0.45"/><circle cx="285.63" cy="369.98" r="0.4" fill="#7f93e0" fill-opacity="0.45"/><circle cx="280.46" cy="358.67" r="0.4" fill="#7f93e0" fill-opacity="0.45"/><circle cx="285.62" cy="363.25" r="0.4" fill="#7f93e0" fill-opacity="0.45"/><circle cx="282.26" cy="365.61" r="0.4" fill="#7f93e0" fill-opacity="0.45"/><circle cx="284.22" cy="365.20" r="0.4" fill="#7f93e0" fill-opacity="0.45"/><circle cx="282.12" cy="367.59" r="0.4" fill="#7f93e0" fill-opacity="0.45"/><circle cx="288.32" cy="364.58" r="0.4" fill="#7f93e0" fill-opacity="0.45"/><circle cx="282.05" cy="366.26" r="0.4" fill="#7f93e0" fill-opacity="0.45"/><circle cx="285.03" cy="362.00" r="0.4" fill="#7f93e0" fill-opacity="0.45"/><circle cx="282.03" cy="367.02" r="0.4" fill="#7f93e0" fill-opacity="0.45"/><circle cx="283.19" cy="363.71" r="0.4" fill="#7f93e0" fill-opacity="0.45"/><circle cx="284.18" cy="364.42" r="0.4" fill="#7f93e0" fill-opacity="0.45"/><circle cx="283.49" cy="359.87" r="0.4" fill="#7f93e0" fill-opacity="0.45"/><circle cx="289.10" cy="364.98" r="0.4" fill="#7f93e0" fill-opacity="0.45"/><circle cx="280.69" cy="366.85" r="0.4" fill="#7f93e0" fill-opacity="0.45"/><circle cx="284.49" cy="364.54" r="0.4" fill="#7f93e0" fill-opacity="0.45"/><circle cx="286.85" cy="369.93" r="0.4" fill="#7f93e0" fill-opacity="0.45"/><circle cx="285.27" cy="368.30" r="0.4" fill="#7f93e0" fill-opacity="0.45"/><circle cx="290.40" cy="362.05" r="0.4" fill="#7f93e0" fill-opacity="0.45"/><circle cx="281.83" cy="366.36" r="0.4" fill="#7f93e0" fill-opacity="0.45"/><circle cx="278.03" cy="363.86" r="0.4" fill="#7f93e0" fill-opacity="0.45"/><circle cx="287.64" cy="367.00" r="0.4" fill="#7f93e0" fill-opacity="0.45"/><circle cx="285.35" cy="359.95" r="0.4" fill="#7f93e0" fill-opacity="0.45"/><circle cx="291.02" cy="365.82" r="0.4" fill="#7f93e0" fill-opacity="0.45"/><circle cx="285.95" cy="365.69" r="0.4" fill="#7f93e0" fill-opacity="0.45"/><circle cx="278.01" cy="361.06" r="0.4" fill="#7f93e0" fill-opacity="0.45"/><circle cx="279.61" cy="369.10" r="0.4" fill="#7f93e0" fill-opacity="0.45"/><circle cx="280.84" cy="363.92" r="0.4" fill="#7f93e0" fill-opacity="0.45"/><circle cx="282.68" cy="365.87" r="0.4" fill="#7f93e0" fill-opacity="0.45"/><circle cx="285.10" cy="365.14" r="0.4" fill="#7f93e0" fill-opacity="0.45"/><circle cx="279.46" cy="356.97" r="0.4" fill="#7f93e0" fill-opacity="0.45"/><circle cx="284.03" cy="365.14" r="0.4" fill="#7f93e0" fill-opacity="0.45"/><circle cx="287.44" cy="364.25" r="0.4" fill="#7f93e0" fill-opacity="0.45"/><circle cx="281.54" cy="365.48" r="0.4" fill="#7f93e0" fill-opacity="0.45"/><circle cx="278.53" cy="362.00" r="0.4" fill="#7f93e0" fill-opacity="0.45"/><circle cx="280.28" cy="365.19" r="0.4" fill="#7f93e0" fill-opacity="0.45"/><circle cx="290.19" cy="366.33" r="0.4" fill="#7f93e0" fill-opacity="0.45"/><circle cx="287.15" cy="365.07" r="0.4" fill="#7f93e0" fill-opacity="0.45"/><circle cx="284.39" cy="363.42" r="0.4" fill="#7f93e0" fill-opacity="0.45"/><circle cx="282.60" cy="358.67" r="0.4" fill="#7f93e0" fill-opacity="0.45"/><circle cx="279.65" cy="361.41" r="0.4" fill="#7f93e0" fill-opacity="0.45"/><circle cx="286.18" cy="366.09" r="0.4" fill="#7f93e0" fill-opacity="0.45"/>
<g filter="url(#bl0_45)"><ellipse cx="0" cy="0" rx="4.20" ry="10.50" fill="#98abed" fill-opacity="0.4" transform="translate(284.5 349.5) rotate(52)"/><ellipse cx="0" cy="0" rx="3.60" ry="6.50" fill="#98abed" fill-opacity="0.45" transform="translate(280.5 352.5) rotate(25)"/><ellipse cx="0" cy="0" rx="2.80" ry="9.20" fill="#2f56d6" fill-opacity="0.95" transform="translate(284.2 349.6) rotate(52)"/><ellipse cx="0" cy="0" rx="3.00" ry="5.60" fill="#2f56d6" fill-opacity="0.95" transform="translate(280.4 352.3) rotate(25)"/><ellipse cx="0" cy="0" rx="2.30" ry="4.80" fill="#35a6e6" fill-opacity="1" transform="translate(280.8 350.9) rotate(40)"/><ellipse cx="0" cy="0" rx="1.70" ry="3.40" fill="#5ac046" fill-opacity="1" transform="translate(280.2 350.8) rotate(38)"/><ellipse cx="0" cy="0" rx="1.20" ry="2.20" fill="#f2e22a" fill-opacity="1" transform="translate(279.6 351.1) rotate(35)"/><ellipse cx="0" cy="0" rx="0.80" ry="1.30" fill="#e63a1e" fill-opacity="1" transform="translate(279.1 351.4) rotate(35)"/></g>
<g filter="url(#bl0_6)"><ellipse cx="0" cy="0" rx="8.00" ry="3.30" fill="#98abed" fill-opacity="0.45" transform="translate(284.4 370.9) rotate(0)"/><ellipse cx="0" cy="0" rx="6.80" ry="2.50" fill="#3558d2" fill-opacity="0.9" transform="translate(284.4 370.9) rotate(0)"/><ellipse cx="0" cy="0" rx="4.00" ry="1.20" fill="#5a9eea" fill-opacity="0.85" transform="translate(284.6 370.9) rotate(0)"/></g>
<circle cx="283.99" cy="373.33" r="0.3" fill="#ffffff" fill-opacity="0.35"/><circle cx="280.64" cy="368.05" r="0.3" fill="#ffffff" fill-opacity="0.35"/><circle cx="285.77" cy="371.97" r="0.3" fill="#ffffff" fill-opacity="0.35"/><circle cx="286.46" cy="371.81" r="0.3" fill="#ffffff" fill-opacity="0.35"/><circle cx="284.15" cy="370.06" r="0.3" fill="#ffffff" fill-opacity="0.35"/><circle cx="281.13" cy="370.68" r="0.3" fill="#ffffff" fill-opacity="0.35"/><circle cx="282.99" cy="372.53" r="0.3" fill="#ffffff" fill-opacity="0.35"/><circle cx="287.84" cy="369.03" r="0.3" fill="#ffffff" fill-opacity="0.35"/><circle cx="288.24" cy="371.02" r="0.3" fill="#ffffff" fill-opacity="0.35"/><circle cx="290.27" cy="373.48" r="0.3" fill="#ffffff" fill-opacity="0.35"/><circle cx="287.59" cy="368.20" r="0.3" fill="#ffffff" fill-opacity="0.35"/><circle cx="288.06" cy="368.55" r="0.3" fill="#ffffff" fill-opacity="0.35"/><circle cx="292.50" cy="370.01" r="0.3" fill="#ffffff" fill-opacity="0.35"/><circle cx="284.01" cy="374.01" r="0.3" fill="#ffffff" fill-opacity="0.35"/><circle cx="276.38" cy="371.12" r="0.3" fill="#ffffff" fill-opacity="0.35"/><circle cx="279.72" cy="370.24" r="0.3" fill="#ffffff" fill-opacity="0.35"/><circle cx="281.05" cy="372.18" r="0.3" fill="#ffffff" fill-opacity="0.35"/><circle cx="283.46" cy="371.64" r="0.3" fill="#ffffff" fill-opacity="0.35"/><circle cx="288.04" cy="368.31" r="0.3" fill="#ffffff" fill-opacity="0.35"/><circle cx="291.73" cy="370.68" r="0.3" fill="#ffffff" fill-opacity="0.35"/><circle cx="276.88" cy="370.01" r="0.3" fill="#ffffff" fill-opacity="0.35"/><circle cx="289.18" cy="372.70" r="0.3" fill="#ffffff" fill-opacity="0.35"/><circle cx="281.59" cy="371.25" r="0.3" fill="#ffffff" fill-opacity="0.35"/><circle cx="286.11" cy="372.76" r="0.3" fill="#ffffff" fill-opacity="0.35"/><circle cx="284.29" cy="372.67" r="0.3" fill="#ffffff" fill-opacity="0.35"/><circle cx="280.60" cy="369.91" r="0.3" fill="#ffffff" fill-opacity="0.35"/><circle cx="288.20" cy="372.26" r="0.3" fill="#ffffff" fill-opacity="0.35"/><circle cx="284.72" cy="372.07" r="0.3" fill="#ffffff" fill-opacity="0.35"/><circle cx="285.97" cy="372.34" r="0.3" fill="#ffffff" fill-opacity="0.35"/><circle cx="290.64" cy="371.93" r="0.3" fill="#ffffff" fill-opacity="0.35"/><circle cx="288.97" cy="370.44" r="0.3" fill="#ffffff" fill-opacity="0.35"/><circle cx="282.23" cy="367.25" r="0.3" fill="#ffffff" fill-opacity="0.35"/><circle cx="286.96" cy="371.14" r="0.3" fill="#ffffff" fill-opacity="0.35"/><circle cx="287.56" cy="368.03" r="0.3" fill="#ffffff" fill-opacity="0.35"/><circle cx="282.58" cy="370.18" r="0.3" fill="#ffffff" fill-opacity="0.35"/><circle cx="276.13" cy="372.57" r="0.3" fill="#ffffff" fill-opacity="0.35"/><circle cx="290.93" cy="369.01" r="0.3" fill="#ffffff" fill-opacity="0.35"/><circle cx="287.14" cy="373.90" r="0.3" fill="#ffffff" fill-opacity="0.35"/><circle cx="279.02" cy="372.70" r="0.3" fill="#ffffff" fill-opacity="0.35"/><circle cx="292.74" cy="374.13" r="0.3" fill="#ffffff" fill-opacity="0.35"/>
<path d="M 275.4 342.3 L 289.6 337.4 L 293.6 346.4 L 287.8 356.5 L 278.6 361.9 L 275.1 359.3 Z" fill="none" stroke="#111" stroke-width="1.1"/>
<rect x="210.55" y="325.1" width="55" height="55" fill="none" stroke="#111" stroke-width="1.2"/>
<rect x="272.65" y="325.1" width="55" height="55" fill="none" stroke="#111" stroke-width="1.2"/>
<text x="349.3" y="284.5" font-size="11" text-anchor="start" fill="#111" stroke="#111" stroke-width="0.25">I</text>
<text x="399.75" y="301.7" font-size="7.3" text-anchor="middle" fill="#111" stroke="#111" stroke-width="0.25" textLength="11.9" lengthAdjust="spacingAndGlyphs">BM</text>
<line x1="381.5" y1="315" x2="381.5" y2="380.8" stroke="#111" stroke-width="1"/>
<line x1="378.5" y1="380.3" x2="381.5" y2="380.3" stroke="#111" stroke-width="0.9"/>
<text x="375.1" y="383.0" font-size="7.4" text-anchor="end" fill="#111" stroke="#111" stroke-width="0.25" textLength="3.8" lengthAdjust="spacingAndGlyphs">0</text>
<line x1="378.5" y1="367.90000000000003" x2="381.5" y2="367.90000000000003" stroke="#111" stroke-width="0.9"/>
<text x="375.1" y="370.6" font-size="7.4" text-anchor="end" fill="#111" stroke="#111" stroke-width="0.25" textLength="7.8" lengthAdjust="spacingAndGlyphs">20</text>
<line x1="378.5" y1="355.5" x2="381.5" y2="355.5" stroke="#111" stroke-width="0.9"/>
<text x="375.1" y="358.2" font-size="7.4" text-anchor="end" fill="#111" stroke="#111" stroke-width="0.25" textLength="7.8" lengthAdjust="spacingAndGlyphs">40</text>
<line x1="378.5" y1="343.1" x2="381.5" y2="343.1" stroke="#111" stroke-width="0.9"/>
<text x="375.1" y="345.8" font-size="7.4" text-anchor="end" fill="#111" stroke="#111" stroke-width="0.25" textLength="7.8" lengthAdjust="spacingAndGlyphs">60</text>
<line x1="378.5" y1="330.7" x2="381.5" y2="330.7" stroke="#111" stroke-width="0.9"/>
<text x="375.1" y="333.4" font-size="7.4" text-anchor="end" fill="#111" stroke="#111" stroke-width="0.25" textLength="7.8" lengthAdjust="spacingAndGlyphs">80</text>
<line x1="378.5" y1="318.3" x2="381.5" y2="318.3" stroke="#111" stroke-width="0.9"/>
<text x="375.1" y="321.0" font-size="7.4" text-anchor="end" fill="#111" stroke="#111" stroke-width="0.25" textLength="11.1" lengthAdjust="spacingAndGlyphs">100</text>
<text x="355" y="351.4" font-size="9" text-anchor="middle" fill="#111" stroke="#111" stroke-width="0.25" textLength="55.6" lengthAdjust="spacingAndGlyphs" transform="rotate(-90 355 351.4)">% GFP<tspan font-size="5.58" dy="-3.42">+</tspan><tspan dy="3.42"> cells</tspan></text>
<rect x="384.1" y="369.8" width="12.5" height="10.2" fill="#8c1528"/>
<line x1="390.35" y1="365.1" x2="390.35" y2="369.8" stroke="#111" stroke-width="0.9"/>
<line x1="388.05" y1="365.1" x2="392.65000000000003" y2="365.1" stroke="#111" stroke-width="0.9"/>
<rect x="402.9" y="318.2" width="11.7" height="61.8" fill="#27376a"/>
<circle cx="405.6" cy="318.5" r="1.2" fill="#111"/>
<circle cx="408" cy="318.5" r="1.2" fill="#111"/>
<circle cx="410.6" cy="318.5" r="1.2" fill="#111"/>
<circle cx="413.2" cy="318.5" r="1.2" fill="#111"/>
<circle cx="390.4" cy="349.2" r="1.25" fill="#111"/>
<circle cx="388.5" cy="363.2" r="1.25" fill="#111"/>
<circle cx="392.3" cy="366.7" r="1.25" fill="#111"/>
<circle cx="386.5" cy="379.3" r="1.25" fill="#111"/>
<circle cx="390.4" cy="379.3" r="1.25" fill="#111"/>
<circle cx="394.3" cy="379.3" r="1.25" fill="#111"/>
<line x1="381" y1="380.5" x2="417" y2="380.5" stroke="#111" stroke-width="1"/>
<line x1="390.2" y1="380.2" x2="390.2" y2="383" stroke="#111" stroke-width="0.9"/>
<line x1="408.9" y1="380.2" x2="408.9" y2="383" stroke="#111" stroke-width="0.9"/>
<line x1="390.4" y1="311.1" x2="409.2" y2="311.1" stroke="#111" stroke-width="1.1"/>
<line x1="390.4" y1="308.90000000000003" x2="390.4" y2="313.3" stroke="#111" stroke-width="0.9"/>
<line x1="409.2" y1="308.90000000000003" x2="409.2" y2="313.3" stroke="#111" stroke-width="0.9"/>
<text x="399.79999999999995" y="309.6" font-size="7.5" text-anchor="middle" fill="#111" stroke="#111" stroke-width="0.25" textLength="9.2" lengthAdjust="spacingAndGlyphs">***</text>
<text x="392.8" y="389.5" font-size="7.6" text-anchor="end" fill="#111" stroke="#111" stroke-width="0.25" textLength="44.5" lengthAdjust="spacingAndGlyphs" transform="rotate(-45 392.8 389.5)">MSCV empty</text>
<text x="410.8" y="389.5" font-size="7.6" text-anchor="end" fill="#111" stroke="#111" stroke-width="0.25" textLength="46" lengthAdjust="spacingAndGlyphs" transform="rotate(-45 410.8 389.5)">MSCV T844M</text>
<text x="478.3" y="312.6" font-size="8.6" text-anchor="middle" fill="#111" stroke="#111" stroke-width="0.25" textLength="59.5" lengthAdjust="spacingAndGlyphs">Gated on CD19<tspan font-size="5.4" dy="-3">+</tspan></text>
<line x1="443.3" y1="382.3" x2="443.3" y2="319.3" stroke="#111" stroke-width="1"/>
<path d="M 443.3 316.0 L 440.5 323.5 L 446.1 323.5 Z" fill="#111"/>
<line x1="444.7" y1="385.7" x2="506" y2="385.7" stroke="#111" stroke-width="1"/>
<path d="M 512 385.7 L 505 382.7 L 505 388.7 Z" fill="#111"/>
<text x="478.8" y="395.6" font-size="9.3" text-anchor="middle" fill="#111" stroke="#111" stroke-width="0.25" textLength="16.8" lengthAdjust="spacingAndGlyphs">GFP</text>
<text x="438.4" y="349" font-size="10.3" text-anchor="middle" fill="#111" stroke="#111" stroke-width="0.25" textLength="29.3" lengthAdjust="spacingAndGlyphs" transform="rotate(-90 438.4 349)">Counts</text>
<path d="M 449.50 379.00 C 450.03 378.85 451.83 379.10 452.70 378.10 C 453.57 377.10 454.15 376.00 454.70 373.00 C 455.25 370.00 455.58 364.40 456.00 360.10 C 456.42 355.80 456.72 350.32 457.20 347.20 C 457.68 344.08 458.40 341.83 458.90 341.40 C 459.40 340.97 459.83 342.13 460.20 344.60 C 460.57 347.07 460.73 352.55 461.10 356.20 C 461.47 359.85 461.87 363.70 462.40 366.50 C 462.93 369.30 463.45 371.60 464.30 373.00 C 465.15 374.40 466.42 374.15 467.50 374.90 C 468.58 375.65 469.72 377.17 470.80 377.50 C 471.88 377.83 472.93 377.27 474.00 376.90 C 475.07 376.53 476.33 375.35 477.20 375.30 C 478.07 375.25 478.45 376.02 479.20 376.60 C 479.95 377.18 480.95 378.50 481.70 378.80 C 482.45 379.10 482.95 378.55 483.70 378.40 C 484.45 378.25 485.35 377.80 486.20 377.90 C 487.05 378.00 485.15 378.82 488.80 379.00 C 492.45 379.18 504.88 379.00 508.10 379.00 L 508.1 379.2 L 449.5 379.2 Z" fill="#d49aa0" stroke="none" stroke-width="0"/>
<path d="M 449.50 379.00 C 450.03 378.85 451.83 379.10 452.70 378.10 C 453.57 377.10 454.15 376.00 454.70 373.00 C 455.25 370.00 455.58 364.40 456.00 360.10 C 456.42 355.80 456.72 350.32 457.20 347.20 C 457.68 344.08 458.40 341.83 458.90 341.40 C 459.40 340.97 459.83 342.13 460.20 344.60 C 460.57 347.07 460.73 352.55 461.10 356.20 C 461.47 359.85 461.87 363.70 462.40 366.50 C 462.93 369.30 463.45 371.60 464.30 373.00 C 465.15 374.40 466.42 374.15 467.50 374.90 C 468.58 375.65 469.72 377.17 470.80 377.50 C 471.88 377.83 472.93 377.27 474.00 376.90 C 475.07 376.53 476.33 375.35 477.20 375.30 C 478.07 375.25 478.45 376.02 479.20 376.60 C 479.95 377.18 480.95 378.50 481.70 378.80 C 482.45 379.10 482.95 378.55 483.70 378.40 C 484.45 378.25 485.35 377.80 486.20 377.90 C 487.05 378.00 485.15 378.82 488.80 379.00 C 492.45 379.18 504.88 379.00 508.10 379.00" fill="none" stroke="#a01c2e" stroke-width="1.2"/>
<path d="M 475.90 358.80 C 476.43 358.58 478.02 358.57 479.10 357.50 C 480.18 356.43 481.53 355.18 482.40 352.40 C 483.27 349.62 483.77 344.88 484.30 340.80 C 484.83 336.72 485.07 331.45 485.60 327.90 C 486.13 324.35 486.85 319.50 487.50 319.50 C 488.15 319.50 488.97 324.35 489.50 327.90 C 490.03 331.45 490.17 336.50 490.70 340.80 C 491.23 345.10 492.05 350.80 492.70 353.70 C 493.35 356.60 493.88 357.35 494.60 358.20 C 495.32 359.05 496.60 358.70 497.00 358.80 Z" fill="#7b85b2" stroke="none" stroke-width="0"/>
<path d="M 449.5 358.8 L 475.9 358.8 C 476.43 358.58 478.02 358.57 479.10 357.50 C 480.18 356.43 481.53 355.18 482.40 352.40 C 483.27 349.62 483.77 344.88 484.30 340.80 C 484.83 336.72 485.07 331.45 485.60 327.90 C 486.13 324.35 486.85 319.50 487.50 319.50 C 488.15 319.50 488.97 324.35 489.50 327.90 C 490.03 331.45 490.17 336.50 490.70 340.80 C 491.23 345.10 492.05 350.80 492.70 353.70 C 493.35 356.60 493.88 357.35 494.60 358.20 C 495.32 359.05 496.60 358.70 497.00 358.80 L 508 358.8" fill="none" stroke="#24357a" stroke-width="1.2"/>
<text x="460.35" y="327.9" font-size="6.0" text-anchor="middle" fill="#333" stroke="#333" stroke-width="0.1" textLength="15.7" lengthAdjust="spacingAndGlyphs">T844M</text>
<text x="499.5" y="327.9" font-size="6.0" text-anchor="middle" fill="#333" stroke="#333" stroke-width="0.1" textLength="14.2" lengthAdjust="spacingAndGlyphs">99.2%</text>
<line x1="471.4" y1="338.5" x2="505.2" y2="338.5" stroke="#111" stroke-width="1.3"/>
<line x1="471.4" y1="335.5" x2="471.4" y2="341.5" stroke="#111" stroke-width="1"/>
<line x1="505.2" y1="335.5" x2="505.2" y2="341.5" stroke="#111" stroke-width="1"/>
<line x1="471.4" y1="367.2" x2="505.2" y2="367.2" stroke="#111" stroke-width="1.3"/>
<line x1="471.4" y1="364.2" x2="471.4" y2="370.2" stroke="#111" stroke-width="1"/>
<line x1="505.2" y1="364.2" x2="505.2" y2="370.2" stroke="#111" stroke-width="1"/>
<text x="488.4" y="365.3" font-size="6.0" text-anchor="middle" fill="#333" stroke="#333" stroke-width="0.1" textLength="14.2" lengthAdjust="spacingAndGlyphs">21.1%</text>
<text x="497.5" y="374.7" font-size="6.0" text-anchor="middle" fill="#333" stroke="#333" stroke-width="0.1" textLength="14.8" lengthAdjust="spacingAndGlyphs">Empty</text>
<rect x="449.1" y="317.3" width="59.3" height="62.80000000000001" fill="none" stroke="#111" stroke-width="1.2"/>
<text x="10.8" y="455.7" font-size="11" text-anchor="start" fill="#111" stroke="#111" stroke-width="0.25">F</text>
<text x="76.7" y="472.5" font-size="9" text-anchor="middle" fill="#111" stroke="#111" stroke-width="0.25" textLength="27.8" lengthAdjust="spacingAndGlyphs">Spleen</text>
<line x1="58.5" y1="485.5" x2="58.5" y2="551" stroke="#111" stroke-width="1"/>
<line x1="55.3" y1="550.4" x2="58.3" y2="550.4" stroke="#111" stroke-width="0.9"/>
<text x="52.6" y="553.0" font-size="7.3" text-anchor="end" fill="#111" stroke="#111" stroke-width="0.25">0</text>
<line x1="55.3" y1="535.0" x2="58.3" y2="535.0" stroke="#111" stroke-width="0.9"/>
<text x="48.1" y="537.6" font-size="7.3" text-anchor="end" fill="#111" stroke="#111" stroke-width="0.25" textLength="17.4" lengthAdjust="spacingAndGlyphs">1×10</text>
<text x="48.4" y="533.8" font-size="5.0" text-anchor="start" fill="#111" stroke="#111" stroke-width="0.25">6</text>
<line x1="55.3" y1="519.6" x2="58.3" y2="519.6" stroke="#111" stroke-width="0.9"/>
<text x="48.1" y="522.2" font-size="7.3" text-anchor="end" fill="#111" stroke="#111" stroke-width="0.25" textLength="17.4" lengthAdjust="spacingAndGlyphs">2×10</text>
<text x="48.4" y="518.4" font-size="5.0" text-anchor="start" fill="#111" stroke="#111" stroke-width="0.25">6</text>
<line x1="55.3" y1="504.2" x2="58.3" y2="504.2" stroke="#111" stroke-width="0.9"/>
<text x="48.1" y="506.8" font-size="7.3" text-anchor="end" fill="#111" stroke="#111" stroke-width="0.25" textLength="17.4" lengthAdjust="spacingAndGlyphs">3×10</text>
<text x="48.4" y="503.0" font-size="5.0" text-anchor="start" fill="#111" stroke="#111" stroke-width="0.25">6</text>
<line x1="55.3" y1="488.79999999999995" x2="58.3" y2="488.79999999999995" stroke="#111" stroke-width="0.9"/>
<text x="48.1" y="491.4" font-size="7.3" text-anchor="end" fill="#111" stroke="#111" stroke-width="0.25" textLength="17.4" lengthAdjust="spacingAndGlyphs">4×10</text>
<text x="48.4" y="487.59999999999997" font-size="5.0" text-anchor="start" fill="#111" stroke="#111" stroke-width="0.25">6</text>
<text x="23.4" y="519.5" font-size="9.3" text-anchor="middle" fill="#111" stroke="#111" stroke-width="0.25" textLength="105" lengthAdjust="spacingAndGlyphs" transform="rotate(-90 23.4 519.5)">Number of cells (cells/ml)</text>
<rect x="61.5" y="541.2" width="12.5" height="9.2" fill="#8c1528"/>
<line x1="67.75" y1="538.8" x2="67.75" y2="541.2" stroke="#111" stroke-width="0.9"/>
<line x1="65.45" y1="538.8" x2="70.05" y2="538.8" stroke="#111" stroke-width="0.9"/>
<rect x="79.8" y="521.5" width="12.2" height="28.9" fill="#27376a"/>
<line x1="85.9" y1="509.4" x2="85.9" y2="521.5" stroke="#111" stroke-width="0.9"/>
<line x1="83.60000000000001" y1="509.4" x2="88.2" y2="509.4" stroke="#111" stroke-width="0.9"/>
<circle cx="66.3" cy="539.4" r="1.25" fill="#111"/>
<circle cx="69.2" cy="540.2" r="1.25" fill="#111"/>
<circle cx="67.3" cy="543.8" r="1.25" fill="#111"/>
<circle cx="86" cy="498.8" r="1.25" fill="#111"/>
<circle cx="86" cy="504.2" r="1.25" fill="#111"/>
<circle cx="86" cy="531.5" r="1.25" fill="#111"/>
<circle cx="86" cy="549.6" r="1.25" fill="#111"/>
<line x1="58" y1="550.5" x2="94.3" y2="550.5" stroke="#111" stroke-width="1"/>
<line x1="67.2" y1="550.6" x2="67.2" y2="553.4" stroke="#111" stroke-width="0.9"/>
<line x1="85.9" y1="550.6" x2="85.9" y2="553.4" stroke="#111" stroke-width="0.9"/>
<line x1="67.4" y1="492.3" x2="86.3" y2="492.3" stroke="#111" stroke-width="1.1"/>
<line x1="67.4" y1="490.1" x2="67.4" y2="494.5" stroke="#111" stroke-width="0.9"/>
<line x1="86.3" y1="490.1" x2="86.3" y2="494.5" stroke="#111" stroke-width="0.9"/>
<text x="76.85" y="489.8" font-size="6.8" text-anchor="middle" fill="#111" stroke="#111" stroke-width="0.25" textLength="8.8" lengthAdjust="spacingAndGlyphs">NS</text>
<text x="70.7" y="559.5" font-size="7.6" text-anchor="end" fill="#111" stroke="#111" stroke-width="0.25" textLength="44.5" lengthAdjust="spacingAndGlyphs" transform="rotate(-45 70.7 559.5)">MSCV empty</text>
<text x="89.4" y="559.5" font-size="7.6" text-anchor="end" fill="#111" stroke="#111" stroke-width="0.25" textLength="46" lengthAdjust="spacingAndGlyphs" transform="rotate(-45 89.4 559.5)">MSCV T844M</text>
<text x="105.2" y="455.7" font-size="11" text-anchor="start" fill="#111" stroke="#111" stroke-width="0.25">H</text>
<text x="161.15" y="472.5" font-size="9" text-anchor="middle" fill="#111" stroke="#111" stroke-width="0.25" textLength="28.5" lengthAdjust="spacingAndGlyphs">Spleen</text>
<line x1="143.5" y1="485" x2="143.5" y2="551.0" stroke="#111" stroke-width="1"/>
<line x1="140.5" y1="550.5" x2="143.5" y2="550.5" stroke="#111" stroke-width="0.9"/>
<text x="135.9" y="553.2" font-size="7.4" text-anchor="end" fill="#111" stroke="#111" stroke-width="0.25" textLength="3.8" lengthAdjust="spacingAndGlyphs">0</text>
<line x1="140.5" y1="538.12" x2="143.5" y2="538.12" stroke="#111" stroke-width="0.9"/>
<text x="135.9" y="540.82" font-size="7.4" text-anchor="end" fill="#111" stroke="#111" stroke-width="0.25" textLength="7.8" lengthAdjust="spacingAndGlyphs">20</text>
<line x1="140.5" y1="525.74" x2="143.5" y2="525.74" stroke="#111" stroke-width="0.9"/>
<text x="135.9" y="528.44" font-size="7.4" text-anchor="end" fill="#111" stroke="#111" stroke-width="0.25" textLength="7.8" lengthAdjust="spacingAndGlyphs">40</text>
<line x1="140.5" y1="513.36" x2="143.5" y2="513.36" stroke="#111" stroke-width="0.9"/>
<text x="135.9" y="516.0600000000001" font-size="7.4" text-anchor="end" fill="#111" stroke="#111" stroke-width="0.25" textLength="7.8" lengthAdjust="spacingAndGlyphs">60</text>
<line x1="140.5" y1="500.98" x2="143.5" y2="500.98" stroke="#111" stroke-width="0.9"/>
<text x="135.9" y="503.68" font-size="7.4" text-anchor="end" fill="#111" stroke="#111" stroke-width="0.25" textLength="7.8" lengthAdjust="spacingAndGlyphs">80</text>
<line x1="140.5" y1="488.6" x2="143.5" y2="488.6" stroke="#111" stroke-width="0.9"/>
<text x="135.9" y="491.3" font-size="7.4" text-anchor="end" fill="#111" stroke="#111" stroke-width="0.25" textLength="11.1" lengthAdjust="spacingAndGlyphs">100</text>
<text x="117" y="519.9" font-size="9" text-anchor="middle" fill="#111" stroke="#111" stroke-width="0.25" textLength="57.1" lengthAdjust="spacingAndGlyphs" transform="rotate(-90 117 519.9)">% CD19<tspan font-size="5.58" dy="-3.42">+</tspan><tspan dy="3.42"> cells</tspan></text>
<rect x="146" y="522.1" width="12.2" height="28.4" fill="#8c1528"/>
<line x1="152.1" y1="514" x2="152.1" y2="522.1" stroke="#111" stroke-width="0.9"/>
<line x1="149.79999999999998" y1="514" x2="154.4" y2="514" stroke="#111" stroke-width="0.9"/>
<rect x="164.5" y="494.7" width="11.7" height="55.8" fill="#27376a"/>
<line x1="170.35" y1="493.4" x2="170.35" y2="494.7" stroke="#111" stroke-width="0.9"/>
<line x1="168.04999999999998" y1="493.4" x2="172.65" y2="493.4" stroke="#111" stroke-width="0.9"/>
<circle cx="148.5" cy="504.1" r="1.25" fill="#111"/>
<circle cx="152" cy="506.2" r="1.25" fill="#111"/>
<circle cx="155.9" cy="505.7" r="1.25" fill="#111"/>
<circle cx="152" cy="526" r="1.25" fill="#111"/>
<circle cx="150.1" cy="545.3" r="1.25" fill="#111"/>
<circle cx="154.3" cy="545.3" r="1.25" fill="#111"/>
<circle cx="167.6" cy="493.6" r="1.25" fill="#111"/>
<circle cx="170.7" cy="492.2" r="1.25" fill="#111"/>
<circle cx="173.9" cy="493.6" r="1.25" fill="#111"/>
<circle cx="171.5" cy="497.2" r="1.25" fill="#111"/>
<line x1="143" y1="550.5" x2="179" y2="550.5" stroke="#111" stroke-width="1"/>
<line x1="152.2" y1="550.7" x2="152.2" y2="553.5" stroke="#111" stroke-width="0.9"/>
<line x1="170.6" y1="550.7" x2="170.6" y2="553.5" stroke="#111" stroke-width="0.9"/>
<line x1="152" y1="485" x2="170.4" y2="485" stroke="#111" stroke-width="1.1"/>
<line x1="152" y1="482.8" x2="152" y2="487.2" stroke="#111" stroke-width="0.9"/>
<line x1="170.4" y1="482.8" x2="170.4" y2="487.2" stroke="#111" stroke-width="0.9"/>
<text x="161.2" y="483.8" font-size="7.5" text-anchor="middle" fill="#111" stroke="#111" stroke-width="0.25">*</text>
<text x="155.9" y="559.5" font-size="7.6" text-anchor="end" fill="#111" stroke="#111" stroke-width="0.25" textLength="44.5" lengthAdjust="spacingAndGlyphs" transform="rotate(-45 155.9 559.5)">MSCV empty</text>
<text x="174.4" y="559.5" font-size="7.6" text-anchor="end" fill="#111" stroke="#111" stroke-width="0.25" textLength="46" lengthAdjust="spacingAndGlyphs" transform="rotate(-45 174.4 559.5)">MSCV T844M</text>
<text x="238.25" y="490.5" font-size="8.2" text-anchor="middle" fill="#111" stroke="#111" stroke-width="0.25" textLength="47.5" lengthAdjust="spacingAndGlyphs">MSCV empty</text>
<text x="300.15" y="490.5" font-size="8.2" text-anchor="middle" fill="#111" stroke="#111" stroke-width="0.25" textLength="48.3" lengthAdjust="spacingAndGlyphs">MSCV T844M</text>
<line x1="203" y1="554.5" x2="203" y2="498.5" stroke="#111" stroke-width="1"/>
<path d="M 203 493.2 L 200.2 501.0 L 205.8 501.0 Z" fill="#111"/>
<line x1="210" y1="556.6" x2="325" y2="556.6" stroke="#111" stroke-width="1"/>
<path d="M 330.5 556.6 L 323.5 553.6 L 323.5 559.6 Z" fill="#111"/>
<text x="269.1" y="567.3" font-size="8.6" text-anchor="middle" fill="#111" stroke="#111" stroke-width="0.25" textLength="20.2" lengthAdjust="spacingAndGlyphs">SSC-A</text>
<text x="198.1" y="523" font-size="10.5" text-anchor="middle" fill="#111" stroke="#111" stroke-width="0.25" textLength="23.4" lengthAdjust="spacingAndGlyphs" transform="rotate(-90 198.1 523)">CD19</text>
<text x="255.4" y="505.8" font-size="5.6" text-anchor="middle" fill="#444" stroke="#444" stroke-width="0.05" textLength="14.1" lengthAdjust="spacingAndGlyphs">39.7%</text>
<text x="317.4" y="505.8" font-size="5.6" text-anchor="middle" fill="#444" stroke="#444" stroke-width="0.05" textLength="14.4" lengthAdjust="spacingAndGlyphs">90.2%</text>
<circle cx="217.89" cy="536.52" r="0.4" fill="#6f86de" fill-opacity="0.45"/><circle cx="217.96" cy="534.87" r="0.4" fill="#6f86de" fill-opacity="0.45"/><circle cx="216.27" cy="535.07" r="0.4" fill="#6f86de" fill-opacity="0.45"/><circle cx="221.17" cy="536.35" r="0.4" fill="#6f86de" fill-opacity="0.45"/><circle cx="220.99" cy="536.00" r="0.4" fill="#6f86de" fill-opacity="0.45"/><circle cx="219.45" cy="535.87" r="0.4" fill="#6f86de" fill-opacity="0.45"/><circle cx="214.50" cy="537.21" r="0.4" fill="#6f86de" fill-opacity="0.45"/><circle cx="219.72" cy="536.50" r="0.4" fill="#6f86de" fill-opacity="0.45"/><circle cx="214.44" cy="532.01" r="0.4" fill="#6f86de" fill-opacity="0.45"/><circle cx="216.36" cy="534.56" r="0.4" fill="#6f86de" fill-opacity="0.45"/><circle cx="219.23" cy="535.41" r="0.4" fill="#6f86de" fill-opacity="0.45"/><circle cx="219.75" cy="534.22" r="0.4" fill="#6f86de" fill-opacity="0.45"/><circle cx="219.24" cy="536.29" r="0.4" fill="#6f86de" fill-opacity="0.45"/><circle cx="216.91" cy="538.94" r="0.4" fill="#6f86de" fill-opacity="0.45"/><circle cx="219.84" cy="537.89" r="0.4" fill="#6f86de" fill-opacity="0.45"/><circle cx="217.01" cy="534.02" r="0.4" fill="#6f86de" fill-opacity="0.45"/><circle cx="217.67" cy="535.29" r="0.4" fill="#6f86de" fill-opacity="0.45"/><circle cx="220.02" cy="536.00" r="0.4" fill="#6f86de" fill-opacity="0.45"/><circle cx="217.43" cy="533.59" r="0.4" fill="#6f86de" fill-opacity="0.45"/><circle cx="217.25" cy="537.94" r="0.4" fill="#6f86de" fill-opacity="0.45"/><circle cx="216.56" cy="535.99" r="0.4" fill="#6f86de" fill-opacity="0.45"/><circle cx="219.52" cy="532.52" r="0.4" fill="#6f86de" fill-opacity="0.45"/><circle cx="218.62" cy="538.11" r="0.4" fill="#6f86de" fill-opacity="0.45"/><circle cx="213.67" cy="534.86" r="0.4" fill="#6f86de" fill-opacity="0.45"/><circle cx="218.25" cy="533.87" r="0.4" fill="#6f86de" fill-opacity="0.45"/><circle cx="219.69" cy="535.38" r="0.4" fill="#6f86de" fill-opacity="0.45"/><circle cx="214.98" cy="537.16" r="0.4" fill="#6f86de" fill-opacity="0.45"/><circle cx="220.11" cy="537.39" r="0.4" fill="#6f86de" fill-opacity="0.45"/><circle cx="221.96" cy="536.22" r="0.4" fill="#6f86de" fill-opacity="0.45"/><circle cx="218.79" cy="532.90" r="0.4" fill="#6f86de" fill-opacity="0.45"/><circle cx="219.98" cy="534.28" r="0.4" fill="#6f86de" fill-opacity="0.45"/><circle cx="217.41" cy="532.97" r="0.4" fill="#6f86de" fill-opacity="0.45"/><circle cx="216.18" cy="534.44" r="0.4" fill="#6f86de" fill-opacity="0.45"/><circle cx="221.59" cy="531.44" r="0.4" fill="#6f86de" fill-opacity="0.45"/><circle cx="215.00" cy="535.98" r="0.4" fill="#6f86de" fill-opacity="0.45"/><circle cx="221.96" cy="536.66" r="0.4" fill="#6f86de" fill-opacity="0.45"/><circle cx="213.94" cy="530.46" r="0.4" fill="#6f86de" fill-opacity="0.45"/><circle cx="219.36" cy="534.03" r="0.4" fill="#6f86de" fill-opacity="0.45"/><circle cx="215.81" cy="537.45" r="0.4" fill="#6f86de" fill-opacity="0.45"/><circle cx="221.14" cy="535.81" r="0.4" fill="#6f86de" fill-opacity="0.45"/><circle cx="219.09" cy="536.37" r="0.4" fill="#6f86de" fill-opacity="0.45"/><circle cx="222.33" cy="536.74" r="0.4" fill="#6f86de" fill-opacity="0.45"/><circle cx="219.74" cy="536.60" r="0.4" fill="#6f86de" fill-opacity="0.45"/><circle cx="214.74" cy="538.06" r="0.4" fill="#6f86de" fill-opacity="0.45"/><circle cx="220.79" cy="536.56" r="0.4" fill="#6f86de" fill-opacity="0.45"/>
<g filter="url(#bl0_45)"><ellipse cx="0" cy="0" rx="5.00" ry="9.50" fill="#98abed" fill-opacity="0.5" transform="translate(218.3 523.8) rotate(25)"/><ellipse cx="0" cy="0" rx="3.50" ry="8.40" fill="#2f56d6" fill-opacity="0.95" transform="translate(217.4 524.5) rotate(22)"/><ellipse cx="0" cy="0" rx="2.20" ry="4.80" fill="#35a6e6" fill-opacity="1" transform="translate(216.4 524) rotate(18)"/><ellipse cx="0" cy="0" rx="1.60" ry="3.20" fill="#5ac046" fill-opacity="1" transform="translate(216.1 523.8) rotate(18)"/><ellipse cx="0" cy="0" rx="1.10" ry="2.10" fill="#f2e22a" fill-opacity="1" transform="translate(215.9 523.6) rotate(18)"/><ellipse cx="0" cy="0" rx="0.70" ry="1.25" fill="#f08a20" fill-opacity="1" transform="translate(215.8 523.6) rotate(18)"/></g>
<g filter="url(#bl0_45)"><ellipse cx="0" cy="0" rx="7.60" ry="5.00" fill="#98abed" fill-opacity="0.5" transform="translate(220.6 542.3) rotate(0)"/><ellipse cx="0" cy="0" rx="6.80" ry="4.40" fill="#2f56d6" fill-opacity="0.95" transform="translate(220.3 542.3) rotate(0)"/><ellipse cx="0" cy="0" rx="5.30" ry="3.40" fill="#35a6e6" fill-opacity="1" transform="translate(219.7 542.3) rotate(0)"/><ellipse cx="0" cy="0" rx="4.10" ry="2.60" fill="#5ac046" fill-opacity="1" transform="translate(219.2 542.4) rotate(0)"/><ellipse cx="0" cy="0" rx="2.90" ry="1.80" fill="#f2e22a" fill-opacity="1" transform="translate(218.8 542.4) rotate(0)"/><ellipse cx="0" cy="0" rx="1.50" ry="0.90" fill="#e63a1e" fill-opacity="1" transform="translate(218.5 542.4) rotate(0)"/></g>
<path d="M 212.7 517.1 L 227.3 511.1 L 231.3 520.6 L 225.6 531.7 L 216.1 536.4 L 212.7 534.3 Z" fill="none" stroke="#111" stroke-width="1.1"/>
<circle cx="279.37" cy="535.36" r="0.4" fill="#7f93e0" fill-opacity="0.45"/><circle cx="285.62" cy="537.46" r="0.4" fill="#7f93e0" fill-opacity="0.45"/><circle cx="285.31" cy="535.08" r="0.4" fill="#7f93e0" fill-opacity="0.45"/><circle cx="282.92" cy="534.61" r="0.4" fill="#7f93e0" fill-opacity="0.45"/><circle cx="278.35" cy="534.26" r="0.4" fill="#7f93e0" fill-opacity="0.45"/><circle cx="284.64" cy="535.40" r="0.4" fill="#7f93e0" fill-opacity="0.45"/><circle cx="281.12" cy="533.32" r="0.4" fill="#7f93e0" fill-opacity="0.45"/><circle cx="281.74" cy="534.08" r="0.4" fill="#7f93e0" fill-opacity="0.45"/><circle cx="282.10" cy="535.77" r="0.4" fill="#7f93e0" fill-opacity="0.45"/><circle cx="275.65" cy="534.86" r="0.4" fill="#7f93e0" fill-opacity="0.45"/><circle cx="277.93" cy="533.51" r="0.4" fill="#7f93e0" fill-opacity="0.45"/><circle cx="278.55" cy="536.77" r="0.4" fill="#7f93e0" fill-opacity="0.45"/><circle cx="283.86" cy="535.79" r="0.4" fill="#7f93e0" fill-opacity="0.45"/><circle cx="279.94" cy="532.71" r="0.4" fill="#7f93e0" fill-opacity="0.45"/><circle cx="280.94" cy="535.32" r="0.4" fill="#7f93e0" fill-opacity="0.45"/><circle cx="281.80" cy="536.09" r="0.4" fill="#7f93e0" fill-opacity="0.45"/><circle cx="281.01" cy="537.86" r="0.4" fill="#7f93e0" fill-opacity="0.45"/><circle cx="283.82" cy="538.17" r="0.4" fill="#7f93e0" fill-opacity="0.45"/><circle cx="282.68" cy="534.63" r="0.4" fill="#7f93e0" fill-opacity="0.45"/><circle cx="279.64" cy="536.28" r="0.4" fill="#7f93e0" fill-opacity="0.45"/><circle cx="284.91" cy="535.25" r="0.4" fill="#7f93e0" fill-opacity="0.45"/><circle cx="283.14" cy="534.57" r="0.4" fill="#7f93e0" fill-opacity="0.45"/><circle cx="280.83" cy="534.54" r="0.4" fill="#7f93e0" fill-opacity="0.45"/><circle cx="276.76" cy="533.39" r="0.4" fill="#7f93e0" fill-opacity="0.45"/><circle cx="282.10" cy="535.20" r="0.4" fill="#7f93e0" fill-opacity="0.45"/><circle cx="285.02" cy="536.00" r="0.4" fill="#7f93e0" fill-opacity="0.45"/><circle cx="283.17" cy="535.07" r="0.4" fill="#7f93e0" fill-opacity="0.45"/><circle cx="275.69" cy="535.07" r="0.4" fill="#7f93e0" fill-opacity="0.45"/><circle cx="279.53" cy="535.78" r="0.4" fill="#7f93e0" fill-opacity="0.45"/><circle cx="281.20" cy="534.46" r="0.4" fill="#7f93e0" fill-opacity="0.45"/><circle cx="280.49" cy="534.53" r="0.4" fill="#7f93e0" fill-opacity="0.45"/><circle cx="276.53" cy="532.45" r="0.4" fill="#7f93e0" fill-opacity="0.45"/><circle cx="285.36" cy="535.68" r="0.4" fill="#7f93e0" fill-opacity="0.45"/><circle cx="280.75" cy="534.44" r="0.4" fill="#7f93e0" fill-opacity="0.45"/><circle cx="280.96" cy="540.16" r="0.4" fill="#7f93e0" fill-opacity="0.45"/>
<g filter="url(#bl0_45)"><ellipse cx="0" cy="0" rx="5.60" ry="10.80" fill="#98abed" fill-opacity="0.5" transform="translate(282.5 522.8) rotate(35)"/><ellipse cx="0" cy="0" rx="4.20" ry="9.60" fill="#2f56d6" fill-opacity="0.95" transform="translate(281.6 523.4) rotate(33)"/><ellipse cx="0" cy="0" rx="2.80" ry="5.80" fill="#35a6e6" fill-opacity="1" transform="translate(280.3 523.3) rotate(30)"/><ellipse cx="0" cy="0" rx="2.00" ry="4.00" fill="#5ac046" fill-opacity="1" transform="translate(279.5 523.6) rotate(28)"/><ellipse cx="0" cy="0" rx="1.40" ry="2.50" fill="#f2e22a" fill-opacity="1" transform="translate(278.8 523.9) rotate(28)"/><ellipse cx="0" cy="0" rx="0.95" ry="1.50" fill="#e63a1e" fill-opacity="1" transform="translate(278.4 524) rotate(28)"/></g>
<g filter="url(#bl0_45)"><ellipse cx="0" cy="0" rx="6.80" ry="5.30" fill="#98abed" fill-opacity="0.5" transform="translate(283 541) rotate(0)"/><ellipse cx="0" cy="0" rx="5.80" ry="4.50" fill="#3f5fd4" fill-opacity="0.9" transform="translate(283 541) rotate(0)"/><ellipse cx="0" cy="0" rx="3.20" ry="2.50" fill="#2d43bc" fill-opacity="0.8" transform="translate(283 541) rotate(0)"/></g>
<circle cx="280.06" cy="541.76" r="0.35" fill="#ffffff" fill-opacity="0.35"/><circle cx="285.39" cy="539.97" r="0.35" fill="#ffffff" fill-opacity="0.35"/><circle cx="279.81" cy="540.87" r="0.35" fill="#ffffff" fill-opacity="0.35"/><circle cx="284.15" cy="543.20" r="0.35" fill="#ffffff" fill-opacity="0.35"/><circle cx="280.08" cy="538.41" r="0.35" fill="#ffffff" fill-opacity="0.35"/><circle cx="284.69" cy="541.95" r="0.35" fill="#ffffff" fill-opacity="0.35"/><circle cx="286.68" cy="542.96" r="0.35" fill="#ffffff" fill-opacity="0.35"/><circle cx="282.76" cy="540.45" r="0.35" fill="#ffffff" fill-opacity="0.35"/><circle cx="289.17" cy="540.42" r="0.35" fill="#ffffff" fill-opacity="0.35"/><circle cx="281.12" cy="538.72" r="0.35" fill="#ffffff" fill-opacity="0.35"/><circle cx="283.23" cy="541.29" r="0.35" fill="#ffffff" fill-opacity="0.35"/><circle cx="282.17" cy="540.88" r="0.35" fill="#ffffff" fill-opacity="0.35"/><circle cx="283.66" cy="542.38" r="0.35" fill="#ffffff" fill-opacity="0.35"/><circle cx="285.63" cy="541.42" r="0.35" fill="#ffffff" fill-opacity="0.35"/><circle cx="278.70" cy="542.40" r="0.35" fill="#ffffff" fill-opacity="0.35"/><circle cx="279.59" cy="540.66" r="0.35" fill="#ffffff" fill-opacity="0.35"/><circle cx="279.46" cy="541.00" r="0.35" fill="#ffffff" fill-opacity="0.35"/><circle cx="281.13" cy="541.43" r="0.35" fill="#ffffff" fill-opacity="0.35"/><circle cx="290.92" cy="540.90" r="0.35" fill="#ffffff" fill-opacity="0.35"/><circle cx="285.02" cy="538.35" r="0.35" fill="#ffffff" fill-opacity="0.35"/><circle cx="282.31" cy="542.32" r="0.35" fill="#ffffff" fill-opacity="0.35"/><circle cx="282.78" cy="541.74" r="0.35" fill="#ffffff" fill-opacity="0.35"/><circle cx="283.25" cy="538.99" r="0.35" fill="#ffffff" fill-opacity="0.35"/><circle cx="284.35" cy="539.38" r="0.35" fill="#ffffff" fill-opacity="0.35"/><circle cx="287.49" cy="539.99" r="0.35" fill="#ffffff" fill-opacity="0.35"/><circle cx="284.65" cy="541.00" r="0.35" fill="#ffffff" fill-opacity="0.35"/><circle cx="285.29" cy="539.80" r="0.35" fill="#ffffff" fill-opacity="0.35"/><circle cx="285.40" cy="540.75" r="0.35" fill="#ffffff" fill-opacity="0.35"/><circle cx="286.03" cy="542.25" r="0.35" fill="#ffffff" fill-opacity="0.35"/><circle cx="283.34" cy="539.44" r="0.35" fill="#ffffff" fill-opacity="0.35"/><circle cx="284.84" cy="541.94" r="0.35" fill="#ffffff" fill-opacity="0.35"/><circle cx="286.94" cy="540.25" r="0.35" fill="#ffffff" fill-opacity="0.35"/><circle cx="284.33" cy="542.02" r="0.35" fill="#ffffff" fill-opacity="0.35"/><circle cx="283.68" cy="541.42" r="0.35" fill="#ffffff" fill-opacity="0.35"/><circle cx="283.44" cy="539.80" r="0.35" fill="#ffffff" fill-opacity="0.35"/><circle cx="280.57" cy="540.21" r="0.35" fill="#ffffff" fill-opacity="0.35"/><circle cx="284.42" cy="544.02" r="0.35" fill="#ffffff" fill-opacity="0.35"/><circle cx="285.35" cy="543.11" r="0.35" fill="#ffffff" fill-opacity="0.35"/><circle cx="284.87" cy="542.40" r="0.35" fill="#ffffff" fill-opacity="0.35"/><circle cx="283.44" cy="542.54" r="0.35" fill="#ffffff" fill-opacity="0.35"/>
<path d="M 275.3 517.1 L 289.7 511.1 L 293.6 520.6 L 288 531.3 L 278.6 536.4 L 275.3 533.8 Z" fill="none" stroke="#111" stroke-width="1.1"/>
<rect x="210.55" y="495.5" width="55" height="55" fill="none" stroke="#111" stroke-width="1.2"/>
<rect x="272.65" y="495.5" width="55" height="55" fill="none" stroke="#111" stroke-width="1.2"/>
<text x="343.2" y="455.7" font-size="11" text-anchor="start" fill="#111" stroke="#111" stroke-width="0.25">J</text>
<text x="399.65" y="472.5" font-size="9" text-anchor="middle" fill="#111" stroke="#111" stroke-width="0.25" textLength="28.5" lengthAdjust="spacingAndGlyphs">Spleen</text>
<line x1="381.5" y1="485" x2="381.5" y2="551.0" stroke="#111" stroke-width="1"/>
<line x1="378.5" y1="550.5" x2="381.5" y2="550.5" stroke="#111" stroke-width="0.9"/>
<text x="375.1" y="553.2" font-size="7.4" text-anchor="end" fill="#111" stroke="#111" stroke-width="0.25" textLength="3.8" lengthAdjust="spacingAndGlyphs">0</text>
<line x1="378.5" y1="538.12" x2="381.5" y2="538.12" stroke="#111" stroke-width="0.9"/>
<text x="375.1" y="540.82" font-size="7.4" text-anchor="end" fill="#111" stroke="#111" stroke-width="0.25" textLength="7.8" lengthAdjust="spacingAndGlyphs">20</text>
<line x1="378.5" y1="525.74" x2="381.5" y2="525.74" stroke="#111" stroke-width="0.9"/>
<text x="375.1" y="528.44" font-size="7.4" text-anchor="end" fill="#111" stroke="#111" stroke-width="0.25" textLength="7.8" lengthAdjust="spacingAndGlyphs">40</text>
<line x1="378.5" y1="513.36" x2="381.5" y2="513.36" stroke="#111" stroke-width="0.9"/>
<text x="375.1" y="516.0600000000001" font-size="7.4" text-anchor="end" fill="#111" stroke="#111" stroke-width="0.25" textLength="7.8" lengthAdjust="spacingAndGlyphs">60</text>
<line x1="378.5" y1="500.98" x2="381.5" y2="500.98" stroke="#111" stroke-width="0.9"/>
<text x="375.1" y="503.68" font-size="7.4" text-anchor="end" fill="#111" stroke="#111" stroke-width="0.25" textLength="7.8" lengthAdjust="spacingAndGlyphs">80</text>
<line x1="378.5" y1="488.6" x2="381.5" y2="488.6" stroke="#111" stroke-width="0.9"/>
<text x="375.1" y="491.3" font-size="7.4" text-anchor="end" fill="#111" stroke="#111" stroke-width="0.25" textLength="11.1" lengthAdjust="spacingAndGlyphs">100</text>
<text x="355.4" y="521.6" font-size="9" text-anchor="middle" fill="#111" stroke="#111" stroke-width="0.25" textLength="55.1" lengthAdjust="spacingAndGlyphs" transform="rotate(-90 355.4 521.6)">% GFP<tspan font-size="5.58" dy="-3.42">+</tspan><tspan dy="3.42"> cells</tspan></text>
<rect x="384.1" y="537.9" width="12.5" height="12.6" fill="#8c1528"/>
<line x1="390.35" y1="532" x2="390.35" y2="537.9" stroke="#111" stroke-width="0.9"/>
<line x1="388.05" y1="532" x2="392.65000000000003" y2="532" stroke="#111" stroke-width="0.9"/>
<rect x="402.9" y="488.6" width="11.7" height="61.9" fill="#27376a"/>
<circle cx="405.6" cy="488.8" r="1.2" fill="#111"/>
<circle cx="408" cy="488.8" r="1.2" fill="#111"/>
<circle cx="410.6" cy="488.8" r="1.2" fill="#111"/>
<circle cx="413.2" cy="488.8" r="1.2" fill="#111"/>
<circle cx="388.5" cy="521.5" r="1.25" fill="#111"/>
<circle cx="392.3" cy="519.5" r="1.25" fill="#111"/>
<circle cx="390.4" cy="535.4" r="1.25" fill="#111"/>
<circle cx="386.5" cy="549.8" r="1.25" fill="#111"/>
<circle cx="390.4" cy="549.8" r="1.25" fill="#111"/>
<circle cx="394.3" cy="549.8" r="1.25" fill="#111"/>
<line x1="381" y1="550.5" x2="417" y2="550.5" stroke="#111" stroke-width="1"/>
<line x1="390.2" y1="550.7" x2="390.2" y2="553.5" stroke="#111" stroke-width="0.9"/>
<line x1="408.9" y1="550.7" x2="408.9" y2="553.5" stroke="#111" stroke-width="0.9"/>
<line x1="390.4" y1="482.7" x2="409.2" y2="482.7" stroke="#111" stroke-width="1.1"/>
<line x1="390.4" y1="480.5" x2="390.4" y2="484.9" stroke="#111" stroke-width="0.9"/>
<line x1="409.2" y1="480.5" x2="409.2" y2="484.9" stroke="#111" stroke-width="0.9"/>
<text x="399.79999999999995" y="481.4" font-size="7.5" text-anchor="middle" fill="#111" stroke="#111" stroke-width="0.25" textLength="9.2" lengthAdjust="spacingAndGlyphs">***</text>
<text x="392.8" y="559.5" font-size="7.6" text-anchor="end" fill="#111" stroke="#111" stroke-width="0.25" textLength="44.5" lengthAdjust="spacingAndGlyphs" transform="rotate(-45 392.8 559.5)">MSCV empty</text>
<text x="410.8" y="559.5" font-size="7.6" text-anchor="end" fill="#111" stroke="#111" stroke-width="0.25" textLength="46" lengthAdjust="spacingAndGlyphs" transform="rotate(-45 410.8 559.5)">MSCV T844M</text>
<text x="478.3" y="483.1" font-size="8.6" text-anchor="middle" fill="#111" stroke="#111" stroke-width="0.25" textLength="59.5" lengthAdjust="spacingAndGlyphs">Gated on CD19+</text>
<line x1="441.3" y1="552.7" x2="441.3" y2="490.2" stroke="#111" stroke-width="1"/>
<path d="M 441.3 486.9 L 438.5 494.4 L 444.1 494.4 Z" fill="#111"/>
<line x1="444.7" y1="556.4" x2="506" y2="556.4" stroke="#111" stroke-width="1"/>
<path d="M 512 556.4 L 505 553.4 L 505 559.4 Z" fill="#111"/>
<text x="478.8" y="566.9" font-size="9.3" text-anchor="middle" fill="#111" stroke="#111" stroke-width="0.25" textLength="16.8" lengthAdjust="spacingAndGlyphs">GFP</text>
<text x="436.1" y="519.3" font-size="9.6" text-anchor="middle" fill="#111" stroke="#111" stroke-width="0.25" textLength="28.8" lengthAdjust="spacingAndGlyphs" transform="rotate(-90 436.1 519.3)">Counts</text>
<path d="M 449.50 549.40 C 450.03 549.30 451.83 549.87 452.70 548.80 C 453.57 547.73 454.15 546.12 454.70 543.00 C 455.25 539.88 455.58 534.60 456.00 530.10 C 456.42 525.60 456.82 519.12 457.20 516.00 C 457.58 512.88 457.93 511.73 458.30 511.40 C 458.67 511.07 459.00 511.53 459.40 514.00 C 459.80 516.47 460.20 522.02 460.70 526.20 C 461.20 530.38 461.80 535.98 462.40 539.10 C 463.00 542.22 463.43 543.50 464.30 544.90 C 465.17 546.30 466.63 546.97 467.60 547.50 C 468.57 548.03 469.25 548.42 470.10 548.10 C 470.95 547.78 471.83 546.57 472.70 545.60 C 473.57 544.63 474.55 542.63 475.30 542.30 C 476.05 541.97 476.57 542.73 477.20 543.60 C 477.83 544.47 478.35 546.53 479.10 547.50 C 479.85 548.47 476.87 549.08 481.70 549.40 C 486.53 549.72 503.70 549.40 508.10 549.40 L 508.1 549.6 L 449.5 549.6 Z" fill="#d49aa0" stroke="none" stroke-width="0"/>
<path d="M 449.50 549.40 C 450.03 549.30 451.83 549.87 452.70 548.80 C 453.57 547.73 454.15 546.12 454.70 543.00 C 455.25 539.88 455.58 534.60 456.00 530.10 C 456.42 525.60 456.82 519.12 457.20 516.00 C 457.58 512.88 457.93 511.73 458.30 511.40 C 458.67 511.07 459.00 511.53 459.40 514.00 C 459.80 516.47 460.20 522.02 460.70 526.20 C 461.20 530.38 461.80 535.98 462.40 539.10 C 463.00 542.22 463.43 543.50 464.30 544.90 C 465.17 546.30 466.63 546.97 467.60 547.50 C 468.57 548.03 469.25 548.42 470.10 548.10 C 470.95 547.78 471.83 546.57 472.70 545.60 C 473.57 544.63 474.55 542.63 475.30 542.30 C 476.05 541.97 476.57 542.73 477.20 543.60 C 477.83 544.47 478.35 546.53 479.10 547.50 C 479.85 548.47 476.87 549.08 481.70 549.40 C 486.53 549.72 503.70 549.40 508.10 549.40" fill="none" stroke="#a01c2e" stroke-width="1.2"/>
<path d="M 473.40 529.50 C 473.93 529.28 475.43 529.38 476.60 528.20 C 477.77 527.02 479.43 525.30 480.40 522.40 C 481.37 519.50 481.85 514.88 482.40 510.80 C 482.95 506.72 483.27 501.33 483.70 497.90 C 484.13 494.47 484.58 490.20 485.00 490.20 C 485.42 490.20 485.78 494.47 486.20 497.90 C 486.62 501.33 487.07 506.50 487.50 510.80 C 487.93 515.10 488.27 520.70 488.80 523.70 C 489.33 526.70 490.00 527.83 490.70 528.80 C 491.40 529.77 492.62 529.38 493.00 529.50 Z" fill="#7b85b2" stroke="none" stroke-width="0"/>
<path d="M 449.5 529.5 L 473.4 529.5 C 473.93 529.28 475.43 529.38 476.60 528.20 C 477.77 527.02 479.43 525.30 480.40 522.40 C 481.37 519.50 481.85 514.88 482.40 510.80 C 482.95 506.72 483.27 501.33 483.70 497.90 C 484.13 494.47 484.58 490.20 485.00 490.20 C 485.42 490.20 485.78 494.47 486.20 497.90 C 486.62 501.33 487.07 506.50 487.50 510.80 C 487.93 515.10 488.27 520.70 488.80 523.70 C 489.33 526.70 490.00 527.83 490.70 528.80 C 491.40 529.77 492.62 529.38 493.00 529.50 L 508 529.5" fill="none" stroke="#24357a" stroke-width="1.2"/>
<text x="460.35" y="498.1" font-size="6.0" text-anchor="middle" fill="#333" stroke="#333" stroke-width="0.1" textLength="15.7" lengthAdjust="spacingAndGlyphs">T844M</text>
<text x="499.5" y="498.1" font-size="6.0" text-anchor="middle" fill="#333" stroke="#333" stroke-width="0.1" textLength="14.2" lengthAdjust="spacingAndGlyphs">99.5%</text>
<line x1="468.8" y1="507.6" x2="502.6" y2="507.6" stroke="#111" stroke-width="1.3"/>
<line x1="468.8" y1="504.6" x2="468.8" y2="510.6" stroke="#111" stroke-width="1"/>
<line x1="502.6" y1="504.6" x2="502.6" y2="510.6" stroke="#111" stroke-width="1"/>
<line x1="468.8" y1="539.1" x2="502.6" y2="539.1" stroke="#111" stroke-width="1.3"/>
<line x1="468.8" y1="536.1" x2="468.8" y2="542.1" stroke="#111" stroke-width="1"/>
<line x1="502.6" y1="536.1" x2="502.6" y2="542.1" stroke="#111" stroke-width="1"/>
<text x="486" y="536.5" font-size="6.0" text-anchor="middle" fill="#333" stroke="#333" stroke-width="0.1" textLength="9.4" lengthAdjust="spacingAndGlyphs">25%</text>
<text x="497.5" y="546" font-size="6.0" text-anchor="middle" fill="#333" stroke="#333" stroke-width="0.1" textLength="14.8" lengthAdjust="spacingAndGlyphs">Empty</text>
<rect x="449.1" y="488.2" width="59.3" height="62.30000000000001" fill="none" stroke="#111" stroke-width="1.2"/>
<rect x="0" y="0" width="520" height="1.1" fill="#000"/><rect x="0" y="0" width="1.5" height="607" fill="#1a1a1a"/><rect x="518.5" y="0" width="1.5" height="607" fill="#0a0a0a"/><rect x="0" y="605.5" width="520" height="1.5" fill="#0a0a0a"/>
</svg>
</body></html>
